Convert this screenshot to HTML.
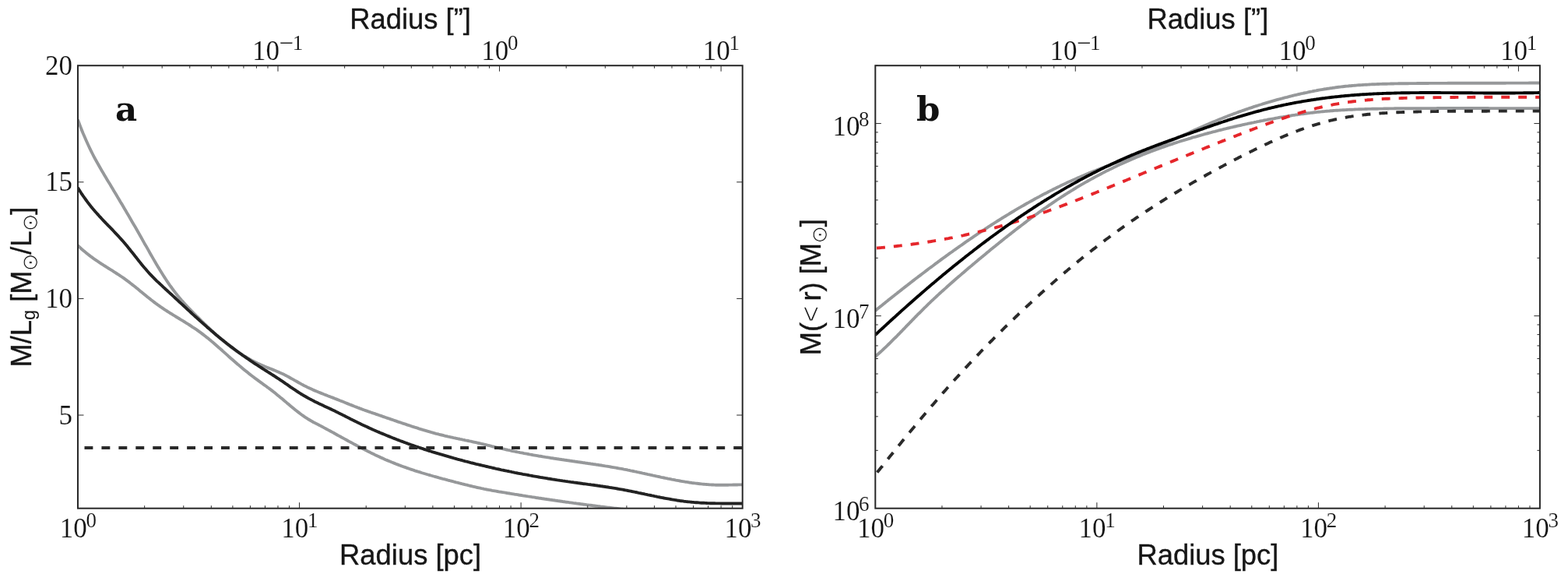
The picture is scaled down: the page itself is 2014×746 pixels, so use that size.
<!DOCTYPE html>
<html><head><meta charset="utf-8"><title>Figure</title>
<style>
html,body{margin:0;padding:0;background:#fff;}
svg{display:block;}
.tk{font-family:"Liberation Serif","DejaVu Serif",serif;font-size:35px;fill:#141414;stroke:#fff;stroke-width:0.15px;paint-order:fill stroke;}
.sup{font-size:27px;}
.mn{font-size:33px;}
.lt{stroke:#fff;stroke-width:0.9px;paint-order:fill stroke;}
.lab{font-family:"Liberation Sans","DejaVu Sans",sans-serif;font-size:36.4px;fill:#161616;stroke:#161616;stroke-width:0.35px;}
.sub{font-size:23.5px;stroke-width:0.1px;}
.sun{font-family:"DejaVu Sans","Liberation Sans",sans-serif;font-size:27.5px;stroke:#fff;stroke-width:0.7px;paint-order:fill stroke;}
.pl{font-family:"DejaVu Serif","Liberation Serif",serif;font-weight:bold;font-size:43.5px;fill:#111;}
.ax{fill:none;stroke:#282828;stroke-width:2;}
.t{stroke:#282828;stroke-width:1;fill:none;}
.c{fill:none;stroke-width:3.9;stroke-linejoin:round;}
</style></head><body>
<svg width="2014" height="746" viewBox="0 0 2014 746">
<rect width="2014" height="746" fill="#fff"/>
<defs>
<clipPath id="cl"><rect x="100.0" y="84.2" width="853.7" height="568.5"/></clipPath>
<clipPath id="cr"><rect x="1124.3" y="84.2" width="853.6000000000001" height="568.5"/></clipPath>
</defs>

<g clip-path="url(#cl)">
<path class="c" stroke="#96989a" d="M100.0,153.8 L101.7,158.4 L103.4,162.9 L105.1,167.3 L106.8,171.5 L108.6,175.5 L110.3,179.5 L112.0,183.3 L113.7,187.0 L115.4,190.6 L117.1,194.1 L118.8,197.5 L120.5,200.8 L122.2,204.0 L124.0,207.2 L125.7,210.2 L127.4,213.3 L129.1,216.3 L130.8,219.2 L132.5,222.1 L134.2,225.0 L135.9,227.8 L137.6,230.7 L139.3,233.5 L141.1,236.3 L142.8,239.2 L144.5,242.0 L146.2,244.9 L147.9,247.7 L149.6,250.6 L151.3,253.4 L153.0,256.3 L154.7,259.2 L156.5,262.1 L158.2,265.0 L159.9,267.9 L161.6,270.8 L163.3,273.7 L165.0,276.6 L166.7,279.5 L168.4,282.5 L170.1,285.4 L171.9,288.4 L173.6,291.3 L175.3,294.3 L177.0,297.3 L178.7,300.3 L180.4,303.3 L182.1,306.3 L183.8,309.4 L185.5,312.4 L187.3,315.4 L189.0,318.4 L190.7,321.4 L192.4,324.5 L194.1,327.4 L195.8,330.4 L197.5,333.4 L199.2,336.3 L200.9,339.2 L202.6,342.1 L204.4,344.9 L206.1,347.7 L207.8,350.5 L209.5,353.2 L211.2,355.9 L212.9,358.5 L214.6,361.1 L216.3,363.6 L218.0,366.1 L219.8,368.5 L221.5,370.9 L223.2,373.2 L224.9,375.4 L226.6,377.6 L228.3,379.7 L230.0,381.8 L231.7,383.8 L233.4,385.8 L235.2,387.7 L236.9,389.7 L238.6,391.5 L240.3,393.4 L242.0,395.2 L243.7,396.9 L245.4,398.7 L247.1,400.4 L248.8,402.2 L250.6,403.9 L252.3,405.6 L254.0,407.2 L255.7,408.9 L257.4,410.6 L259.1,412.3 L260.8,413.9 L262.5,415.6 L264.2,417.2 L265.9,418.9 L267.7,420.5 L269.4,422.1 L271.1,423.7 L272.8,425.3 L274.5,426.8 L276.2,428.4 L277.9,429.9 L279.6,431.5 L281.3,433.0 L283.1,434.5 L284.8,435.9 L286.5,437.4 L288.2,438.8 L289.9,440.2 L291.6,441.6 L293.3,443.0 L295.0,444.3 L296.7,445.6 L298.5,446.9 L300.2,448.1 L301.9,449.4 L303.6,450.6 L305.3,451.8 L307.0,452.9 L308.7,454.0 L310.4,455.2 L312.1,456.2 L313.9,457.3 L315.6,458.3 L317.3,459.3 L319.0,460.3 L320.7,461.3 L322.4,462.2 L324.1,463.1 L325.8,464.0 L327.5,464.9 L329.3,465.7 L331.0,466.6 L332.7,467.4 L334.4,468.1 L336.1,468.9 L337.8,469.6 L339.5,470.3 L341.2,471.0 L342.9,471.7 L344.6,472.4 L346.4,473.1 L348.1,473.7 L349.8,474.4 L351.5,475.1 L353.2,475.8 L354.9,476.5 L356.6,477.2 L358.3,477.9 L360.0,478.7 L361.8,479.5 L363.5,480.3 L365.2,481.1 L366.9,482.0 L368.6,482.9 L370.3,483.8 L372.0,484.7 L373.7,485.7 L375.4,486.6 L377.2,487.6 L378.9,488.6 L380.6,489.5 L382.3,490.5 L384.0,491.5 L385.7,492.4 L387.4,493.4 L389.1,494.3 L390.8,495.2 L392.6,496.0 L394.3,496.9 L396.0,497.7 L397.7,498.5 L399.4,499.3 L401.1,500.1 L402.8,500.9 L404.5,501.6 L406.2,502.3 L407.9,503.0 L409.7,503.7 L411.4,504.4 L413.1,505.1 L414.8,505.8 L416.5,506.5 L418.2,507.1 L419.9,507.8 L421.6,508.5 L423.3,509.1 L425.1,509.8 L426.8,510.4 L428.5,511.1 L430.2,511.8 L431.9,512.4 L433.6,513.1 L435.3,513.8 L437.0,514.5 L438.7,515.1 L440.5,515.8 L442.2,516.5 L443.9,517.2 L445.6,517.9 L447.3,518.6 L449.0,519.3 L450.7,519.9 L452.4,520.6 L454.1,521.3 L455.9,522.0 L457.6,522.6 L459.3,523.3 L461.0,523.9 L462.7,524.6 L464.4,525.2 L466.1,525.9 L467.8,526.5 L469.5,527.1 L471.2,527.7 L473.0,528.3 L474.7,528.9 L476.4,529.5 L478.1,530.1 L479.8,530.7 L481.5,531.2 L483.2,531.8 L484.9,532.4 L486.6,533.0 L488.4,533.6 L490.1,534.2 L491.8,534.8 L493.5,535.4 L495.2,536.0 L496.9,536.6 L498.6,537.2 L500.3,537.7 L502.0,538.3 L503.8,538.9 L505.5,539.5 L507.2,540.1 L508.9,540.7 L510.6,541.3 L512.3,541.9 L514.0,542.4 L515.7,543.0 L517.4,543.6 L519.2,544.2 L520.9,544.7 L522.6,545.3 L524.3,545.9 L526.0,546.4 L527.7,547.0 L529.4,547.6 L531.1,548.1 L532.8,548.7 L534.5,549.2 L536.3,549.7 L538.0,550.3 L539.7,550.8 L541.4,551.3 L543.1,551.9 L544.8,552.4 L546.5,552.9 L548.2,553.4 L549.9,553.9 L551.7,554.4 L553.4,554.9 L555.1,555.3 L556.8,555.8 L558.5,556.3 L560.2,556.8 L561.9,557.2 L563.6,557.7 L565.3,558.1 L567.1,558.5 L568.8,558.9 L570.5,559.4 L572.2,559.8 L573.9,560.2 L575.6,560.6 L577.3,560.9 L579.0,561.3 L580.7,561.7 L582.5,562.1 L584.2,562.4 L585.9,562.8 L587.6,563.2 L589.3,563.5 L591.0,563.9 L592.7,564.2 L594.4,564.6 L596.1,564.9 L597.8,565.3 L599.6,565.6 L601.3,566.0 L603.0,566.4 L604.7,566.7 L606.4,567.1 L608.1,567.5 L609.8,567.8 L611.5,568.2 L613.2,568.6 L615.0,569.0 L616.7,569.4 L618.4,569.8 L620.1,570.2 L621.8,570.6 L623.5,571.0 L625.2,571.4 L626.9,571.8 L628.6,572.2 L630.4,572.6 L632.1,573.1 L633.8,573.5 L635.5,573.9 L637.2,574.3 L638.9,574.7 L640.6,575.1 L642.3,575.5 L644.0,575.9 L645.8,576.3 L647.5,576.7 L649.2,577.1 L650.9,577.5 L652.6,577.9 L654.3,578.2 L656.0,578.6 L657.7,579.0 L659.4,579.3 L661.1,579.7 L662.9,580.0 L664.6,580.4 L666.3,580.7 L668.0,581.1 L669.7,581.4 L671.4,581.7 L673.1,582.1 L674.8,582.4 L676.5,582.7 L678.3,583.0 L680.0,583.4 L681.7,583.7 L683.4,584.0 L685.1,584.3 L686.8,584.6 L688.5,584.9 L690.2,585.2 L691.9,585.5 L693.7,585.7 L695.4,586.0 L697.1,586.3 L698.8,586.6 L700.5,586.9 L702.2,587.1 L703.9,587.4 L705.6,587.7 L707.3,588.0 L709.1,588.2 L710.8,588.5 L712.5,588.8 L714.2,589.0 L715.9,589.3 L717.6,589.5 L719.3,589.8 L721.0,590.0 L722.7,590.3 L724.4,590.5 L726.2,590.8 L727.9,591.0 L729.6,591.3 L731.3,591.5 L733.0,591.8 L734.7,592.0 L736.4,592.3 L738.1,592.5 L739.8,592.8 L741.6,593.0 L743.3,593.3 L745.0,593.5 L746.7,593.7 L748.4,594.0 L750.1,594.2 L751.8,594.5 L753.5,594.7 L755.2,595.0 L757.0,595.2 L758.7,595.5 L760.4,595.7 L762.1,596.0 L763.8,596.2 L765.5,596.5 L767.2,596.7 L768.9,597.0 L770.6,597.3 L772.4,597.5 L774.1,597.8 L775.8,598.1 L777.5,598.4 L779.2,598.6 L780.9,598.9 L782.6,599.2 L784.3,599.5 L786.0,599.8 L787.8,600.1 L789.5,600.4 L791.2,600.7 L792.9,601.0 L794.6,601.3 L796.3,601.6 L798.0,601.9 L799.7,602.2 L801.4,602.6 L803.1,602.9 L804.9,603.2 L806.6,603.6 L808.3,603.9 L810.0,604.3 L811.7,604.6 L813.4,605.0 L815.1,605.4 L816.8,605.7 L818.5,606.1 L820.3,606.4 L822.0,606.8 L823.7,607.2 L825.4,607.6 L827.1,607.9 L828.8,608.3 L830.5,608.7 L832.2,609.1 L833.9,609.4 L835.7,609.8 L837.4,610.2 L839.1,610.6 L840.8,610.9 L842.5,611.3 L844.2,611.7 L845.9,612.0 L847.6,612.4 L849.3,612.8 L851.1,613.1 L852.8,613.5 L854.5,613.9 L856.2,614.2 L857.9,614.6 L859.6,614.9 L861.3,615.2 L863.0,615.6 L864.7,615.9 L866.4,616.2 L868.2,616.6 L869.9,616.9 L871.6,617.2 L873.3,617.5 L875.0,617.8 L876.7,618.1 L878.4,618.4 L880.1,618.7 L881.8,618.9 L883.6,619.2 L885.3,619.5 L887.0,619.7 L888.7,620.0 L890.4,620.2 L892.1,620.4 L893.8,620.6 L895.5,620.8 L897.2,621.0 L899.0,621.2 L900.7,621.4 L902.4,621.6 L904.1,621.7 L905.8,621.9 L907.5,622.0 L909.2,622.1 L910.9,622.3 L912.6,622.4 L914.4,622.5 L916.1,622.5 L917.8,622.6 L919.5,622.7 L921.2,622.7 L922.9,622.7 L924.6,622.7 L926.3,622.7 L928.0,622.7 L929.7,622.7 L931.5,622.7 L933.2,622.7 L934.9,622.7 L936.6,622.6 L938.3,622.6 L940.0,622.6 L941.7,622.5 L943.4,622.5 L945.1,622.5 L946.9,622.5 L948.6,622.4 L950.3,622.4 L952.0,622.4 L953.7,622.4"/>
<path class="c" stroke="#96989a" d="M100.0,315.2 L101.7,316.8 L103.4,318.4 L105.1,320.0 L106.8,321.5 L108.6,322.9 L110.3,324.4 L112.0,325.7 L113.7,327.1 L115.4,328.4 L117.1,329.7 L118.8,330.9 L120.5,332.2 L122.2,333.4 L124.0,334.5 L125.7,335.7 L127.4,336.8 L129.1,338.0 L130.8,339.1 L132.5,340.2 L134.2,341.3 L135.9,342.3 L137.6,343.4 L139.3,344.5 L141.1,345.6 L142.8,346.6 L144.5,347.7 L146.2,348.8 L147.9,349.9 L149.6,351.0 L151.3,352.1 L153.0,353.2 L154.7,354.3 L156.5,355.5 L158.2,356.7 L159.9,357.9 L161.6,359.1 L163.3,360.4 L165.0,361.6 L166.7,362.9 L168.4,364.3 L170.1,365.6 L171.9,367.0 L173.6,368.3 L175.3,369.7 L177.0,371.1 L178.7,372.5 L180.4,373.9 L182.1,375.3 L183.8,376.7 L185.5,378.1 L187.3,379.5 L189.0,380.9 L190.7,382.3 L192.4,383.6 L194.1,385.0 L195.8,386.3 L197.5,387.6 L199.2,388.9 L200.9,390.2 L202.6,391.4 L204.4,392.6 L206.1,393.8 L207.8,395.0 L209.5,396.1 L211.2,397.3 L212.9,398.4 L214.6,399.5 L216.3,400.6 L218.0,401.7 L219.8,402.7 L221.5,403.8 L223.2,404.9 L224.9,405.9 L226.6,407.0 L228.3,408.0 L230.0,409.0 L231.7,410.1 L233.4,411.1 L235.2,412.2 L236.9,413.2 L238.6,414.3 L240.3,415.4 L242.0,416.4 L243.7,417.5 L245.4,418.6 L247.1,419.8 L248.8,420.9 L250.6,422.0 L252.3,423.2 L254.0,424.4 L255.7,425.6 L257.4,426.8 L259.1,428.1 L260.8,429.4 L262.5,430.7 L264.2,432.0 L265.9,433.4 L267.7,434.8 L269.4,436.2 L271.1,437.6 L272.8,439.1 L274.5,440.5 L276.2,442.0 L277.9,443.5 L279.6,445.0 L281.3,446.5 L283.1,448.0 L284.8,449.5 L286.5,451.1 L288.2,452.6 L289.9,454.1 L291.6,455.6 L293.3,457.2 L295.0,458.7 L296.7,460.2 L298.5,461.7 L300.2,463.2 L301.9,464.7 L303.6,466.2 L305.3,467.7 L307.0,469.1 L308.7,470.6 L310.4,472.0 L312.1,473.4 L313.9,474.9 L315.6,476.3 L317.3,477.6 L319.0,479.0 L320.7,480.4 L322.4,481.7 L324.1,483.0 L325.8,484.3 L327.5,485.6 L329.3,486.9 L331.0,488.1 L332.7,489.4 L334.4,490.6 L336.1,491.8 L337.8,493.1 L339.5,494.3 L341.2,495.5 L342.9,496.8 L344.6,498.0 L346.4,499.3 L348.1,500.6 L349.8,501.9 L351.5,503.2 L353.2,504.6 L354.9,506.0 L356.6,507.4 L358.3,508.8 L360.0,510.2 L361.8,511.6 L363.5,513.0 L365.2,514.5 L366.9,515.9 L368.6,517.4 L370.3,518.8 L372.0,520.3 L373.7,521.7 L375.4,523.1 L377.2,524.5 L378.9,525.9 L380.6,527.3 L382.3,528.6 L384.0,529.9 L385.7,531.2 L387.4,532.5 L389.1,533.7 L390.8,534.9 L392.6,536.1 L394.3,537.2 L396.0,538.3 L397.7,539.3 L399.4,540.3 L401.1,541.2 L402.8,542.2 L404.5,543.1 L406.2,543.9 L407.9,544.8 L409.7,545.7 L411.4,546.6 L413.1,547.5 L414.8,548.4 L416.5,549.4 L418.2,550.3 L419.9,551.2 L421.6,552.1 L423.3,553.0 L425.1,554.0 L426.8,554.9 L428.5,555.8 L430.2,556.8 L431.9,557.7 L433.6,558.7 L435.3,559.6 L437.0,560.5 L438.7,561.5 L440.5,562.4 L442.2,563.4 L443.9,564.3 L445.6,565.2 L447.3,566.2 L449.0,567.1 L450.7,568.0 L452.4,568.9 L454.1,569.9 L455.9,570.8 L457.6,571.7 L459.3,572.6 L461.0,573.5 L462.7,574.4 L464.4,575.3 L466.1,576.2 L467.8,577.1 L469.5,577.9 L471.2,578.8 L473.0,579.7 L474.7,580.5 L476.4,581.4 L478.1,582.2 L479.8,583.0 L481.5,583.9 L483.2,584.7 L484.9,585.5 L486.6,586.3 L488.4,587.1 L490.1,587.9 L491.8,588.6 L493.5,589.4 L495.2,590.2 L496.9,590.9 L498.6,591.6 L500.3,592.3 L502.0,593.0 L503.8,593.7 L505.5,594.4 L507.2,595.1 L508.9,595.8 L510.6,596.4 L512.3,597.1 L514.0,597.7 L515.7,598.4 L517.4,599.0 L519.2,599.6 L520.9,600.2 L522.6,600.8 L524.3,601.4 L526.0,602.0 L527.7,602.6 L529.4,603.2 L531.1,603.7 L532.8,604.3 L534.5,604.8 L536.3,605.4 L538.0,605.9 L539.7,606.4 L541.4,607.0 L543.1,607.5 L544.8,608.0 L546.5,608.5 L548.2,609.0 L549.9,609.5 L551.7,610.0 L553.4,610.5 L555.1,611.0 L556.8,611.5 L558.5,612.0 L560.2,612.4 L561.9,612.9 L563.6,613.4 L565.3,613.8 L567.1,614.3 L568.8,614.8 L570.5,615.2 L572.2,615.7 L573.9,616.1 L575.6,616.6 L577.3,617.0 L579.0,617.5 L580.7,617.9 L582.5,618.4 L584.2,618.8 L585.9,619.3 L587.6,619.7 L589.3,620.2 L591.0,620.6 L592.7,621.0 L594.4,621.5 L596.1,621.9 L597.8,622.3 L599.6,622.7 L601.3,623.2 L603.0,623.6 L604.7,624.0 L606.4,624.4 L608.1,624.8 L609.8,625.2 L611.5,625.6 L613.2,626.0 L615.0,626.3 L616.7,626.7 L618.4,627.1 L620.1,627.4 L621.8,627.8 L623.5,628.1 L625.2,628.5 L626.9,628.8 L628.6,629.1 L630.4,629.4 L632.1,629.8 L633.8,630.1 L635.5,630.4 L637.2,630.7 L638.9,631.0 L640.6,631.3 L642.3,631.6 L644.0,631.8 L645.8,632.1 L647.5,632.4 L649.2,632.7 L650.9,633.0 L652.6,633.3 L654.3,633.5 L656.0,633.8 L657.7,634.1 L659.4,634.4 L661.1,634.7 L662.9,634.9 L664.6,635.2 L666.3,635.5 L668.0,635.8 L669.7,636.0 L671.4,636.3 L673.1,636.6 L674.8,636.8 L676.5,637.1 L678.3,637.4 L680.0,637.6 L681.7,637.9 L683.4,638.2 L685.1,638.4 L686.8,638.7 L688.5,639.0 L690.2,639.2 L691.9,639.5 L693.7,639.7 L695.4,640.0 L697.1,640.3 L698.8,640.5 L700.5,640.8 L702.2,641.0 L703.9,641.3 L705.6,641.5 L707.3,641.8 L709.1,642.0 L710.8,642.3 L712.5,642.5 L714.2,642.8 L715.9,643.0 L717.6,643.3 L719.3,643.5 L721.0,643.7 L722.7,644.0 L724.4,644.2 L726.2,644.5 L727.9,644.7 L729.6,644.9 L731.3,645.2 L733.0,645.4 L734.7,645.6 L736.4,645.9 L738.1,646.1 L739.8,646.3 L741.6,646.6 L743.3,646.8 L745.0,647.0 L746.7,647.3 L748.4,647.5 L750.1,647.7 L751.8,647.9 L753.5,648.2 L755.2,648.4 L757.0,648.6 L758.7,648.8 L760.4,649.0 L762.1,649.3 L763.8,649.5 L765.5,649.7 L767.2,649.9 L768.9,650.1 L770.6,650.3 L772.4,650.6 L774.1,650.8 L775.8,651.0 L777.5,651.2 L779.2,651.4 L780.9,651.6 L782.6,651.8 L784.3,652.0 L786.0,652.2 L787.8,652.4 L789.5,652.6 L791.2,652.8 L792.9,653.0 L794.6,653.2 L796.3,653.4 L798.0,653.6 L799.7,653.8 L801.4,654.0 L803.1,654.2 L804.9,654.4 L806.6,654.6 L808.3,654.8 L810.0,655.0 L811.7,655.2 L813.4,655.4 L815.1,655.6 L816.8,655.8 L818.5,656.0 L820.3,656.1 L822.0,656.3 L823.7,656.5 L825.4,656.7 L827.1,656.9 L828.8,657.1 L830.5,657.2 L832.2,657.4 L833.9,657.6 L835.7,657.8 L837.4,658.0 L839.1,658.1 L840.8,658.3 L842.5,658.5 L844.2,658.7 L845.9,658.8 L847.6,659.0 L849.3,659.2 L851.1,659.4 L852.8,659.5 L854.5,659.7 L856.2,659.9 L857.9,660.0 L859.6,660.2 L861.3,660.4 L863.0,660.5 L864.7,660.7 L866.4,660.8 L868.2,661.0 L869.9,661.2 L871.6,661.3 L873.3,661.5 L875.0,661.6 L876.7,661.8 L878.4,662.0 L880.1,662.1 L881.8,662.3 L883.6,662.4 L885.3,662.6 L887.0,662.7 L888.7,662.9 L890.4,663.0 L892.1,663.2 L893.8,663.3 L895.5,663.5 L897.2,663.6 L899.0,663.8 L900.7,663.9 L902.4,664.1 L904.1,664.2 L905.8,664.3 L907.5,664.5 L909.2,664.6 L910.9,664.8 L912.6,664.9 L914.4,665.0 L916.1,665.2 L917.8,665.3 L919.5,665.4 L921.2,665.6 L922.9,665.7 L924.6,665.8 L926.3,666.0 L928.0,666.1 L929.7,666.2 L931.5,666.4 L933.2,666.5 L934.9,666.6 L936.6,666.8 L938.3,666.9 L940.0,667.0 L941.7,667.1 L943.4,667.3 L945.1,667.4 L946.9,667.5 L948.6,667.6 L950.3,667.7 L952.0,667.9 L953.7,668.0"/>
<path class="c" stroke="#222222" d="M100.0,241.1 L101.7,243.9 L103.4,246.5 L105.1,249.2 L106.8,251.7 L108.6,254.1 L110.3,256.5 L112.0,258.8 L113.7,261.1 L115.4,263.3 L117.1,265.4 L118.8,267.5 L120.5,269.5 L122.2,271.5 L124.0,273.5 L125.7,275.4 L127.4,277.3 L129.1,279.1 L130.8,281.0 L132.5,282.8 L134.2,284.6 L135.9,286.4 L137.6,288.1 L139.3,289.9 L141.1,291.7 L142.8,293.4 L144.5,295.2 L146.2,297.0 L147.9,298.8 L149.6,300.6 L151.3,302.4 L153.0,304.3 L154.7,306.2 L156.5,308.1 L158.2,310.0 L159.9,312.0 L161.6,314.1 L163.3,316.1 L165.0,318.2 L166.7,320.3 L168.4,322.5 L170.1,324.6 L171.9,326.8 L173.6,329.0 L175.3,331.1 L177.0,333.3 L178.7,335.4 L180.4,337.6 L182.1,339.7 L183.8,341.8 L185.5,343.8 L187.3,345.8 L189.0,347.8 L190.7,349.7 L192.4,351.6 L194.1,353.4 L195.8,355.2 L197.5,356.9 L199.2,358.6 L200.9,360.3 L202.6,361.9 L204.4,363.5 L206.1,365.1 L207.8,366.7 L209.5,368.3 L211.2,369.9 L212.9,371.5 L214.6,373.0 L216.3,374.6 L218.0,376.2 L219.8,377.8 L221.5,379.3 L223.2,380.9 L224.9,382.5 L226.6,384.1 L228.3,385.7 L230.0,387.3 L231.7,388.9 L233.4,390.4 L235.2,392.0 L236.9,393.6 L238.6,395.2 L240.3,396.8 L242.0,398.4 L243.7,399.9 L245.4,401.5 L247.1,403.1 L248.8,404.6 L250.6,406.2 L252.3,407.7 L254.0,409.3 L255.7,410.8 L257.4,412.4 L259.1,413.9 L260.8,415.4 L262.5,416.9 L264.2,418.4 L265.9,419.9 L267.7,421.4 L269.4,422.9 L271.1,424.4 L272.8,425.8 L274.5,427.3 L276.2,428.7 L277.9,430.2 L279.6,431.6 L281.3,433.0 L283.1,434.4 L284.8,435.8 L286.5,437.1 L288.2,438.5 L289.9,439.8 L291.6,441.2 L293.3,442.5 L295.0,443.8 L296.7,445.1 L298.5,446.4 L300.2,447.7 L301.9,449.0 L303.6,450.3 L305.3,451.5 L307.0,452.8 L308.7,454.0 L310.4,455.2 L312.1,456.5 L313.9,457.7 L315.6,458.9 L317.3,460.1 L319.0,461.2 L320.7,462.4 L322.4,463.6 L324.1,464.7 L325.8,465.9 L327.5,467.0 L329.3,468.1 L331.0,469.2 L332.7,470.3 L334.4,471.4 L336.1,472.5 L337.8,473.6 L339.5,474.7 L341.2,475.8 L342.9,476.8 L344.6,477.9 L346.4,479.0 L348.1,480.1 L349.8,481.2 L351.5,482.2 L353.2,483.4 L354.9,484.5 L356.6,485.6 L358.3,486.7 L360.0,487.9 L361.8,489.0 L363.5,490.2 L365.2,491.4 L366.9,492.6 L368.6,493.7 L370.3,494.9 L372.0,496.1 L373.7,497.3 L375.4,498.4 L377.2,499.6 L378.9,500.7 L380.6,501.9 L382.3,503.0 L384.0,504.1 L385.7,505.2 L387.4,506.2 L389.1,507.3 L390.8,508.3 L392.6,509.3 L394.3,510.3 L396.0,511.2 L397.7,512.1 L399.4,513.0 L401.1,513.9 L402.8,514.8 L404.5,515.7 L406.2,516.5 L407.9,517.3 L409.7,518.2 L411.4,519.0 L413.1,519.8 L414.8,520.6 L416.5,521.4 L418.2,522.2 L419.9,523.0 L421.6,523.8 L423.3,524.6 L425.1,525.4 L426.8,526.2 L428.5,527.0 L430.2,527.8 L431.9,528.7 L433.6,529.5 L435.3,530.4 L437.0,531.2 L438.7,532.1 L440.5,533.0 L442.2,533.8 L443.9,534.7 L445.6,535.6 L447.3,536.4 L449.0,537.3 L450.7,538.2 L452.4,539.0 L454.1,539.9 L455.9,540.7 L457.6,541.6 L459.3,542.4 L461.0,543.3 L462.7,544.1 L464.4,544.9 L466.1,545.7 L467.8,546.5 L469.5,547.3 L471.2,548.1 L473.0,548.9 L474.7,549.7 L476.4,550.4 L478.1,551.2 L479.8,552.0 L481.5,552.7 L483.2,553.5 L484.9,554.2 L486.6,554.9 L488.4,555.7 L490.1,556.4 L491.8,557.1 L493.5,557.8 L495.2,558.5 L496.9,559.2 L498.6,559.9 L500.3,560.6 L502.0,561.3 L503.8,562.0 L505.5,562.7 L507.2,563.3 L508.9,564.0 L510.6,564.7 L512.3,565.3 L514.0,566.0 L515.7,566.6 L517.4,567.2 L519.2,567.9 L520.9,568.5 L522.6,569.1 L524.3,569.8 L526.0,570.4 L527.7,571.0 L529.4,571.6 L531.1,572.2 L532.8,572.8 L534.5,573.4 L536.3,573.9 L538.0,574.5 L539.7,575.1 L541.4,575.7 L543.1,576.2 L544.8,576.8 L546.5,577.4 L548.2,577.9 L549.9,578.5 L551.7,579.0 L553.4,579.5 L555.1,580.1 L556.8,580.6 L558.5,581.1 L560.2,581.7 L561.9,582.2 L563.6,582.7 L565.3,583.2 L567.1,583.7 L568.8,584.2 L570.5,584.7 L572.2,585.2 L573.9,585.7 L575.6,586.2 L577.3,586.7 L579.0,587.2 L580.7,587.7 L582.5,588.2 L584.2,588.6 L585.9,589.1 L587.6,589.6 L589.3,590.0 L591.0,590.5 L592.7,590.9 L594.4,591.4 L596.1,591.8 L597.8,592.3 L599.6,592.7 L601.3,593.2 L603.0,593.6 L604.7,594.1 L606.4,594.5 L608.1,594.9 L609.8,595.3 L611.5,595.8 L613.2,596.2 L615.0,596.6 L616.7,597.0 L618.4,597.4 L620.1,597.8 L621.8,598.2 L623.5,598.6 L625.2,599.0 L626.9,599.4 L628.6,599.8 L630.4,600.2 L632.1,600.6 L633.8,601.0 L635.5,601.4 L637.2,601.8 L638.9,602.1 L640.6,602.5 L642.3,602.9 L644.0,603.3 L645.8,603.6 L647.5,604.0 L649.2,604.3 L650.9,604.7 L652.6,605.0 L654.3,605.4 L656.0,605.7 L657.7,606.1 L659.4,606.4 L661.1,606.8 L662.9,607.1 L664.6,607.5 L666.3,607.8 L668.0,608.1 L669.7,608.4 L671.4,608.8 L673.1,609.1 L674.8,609.4 L676.5,609.7 L678.3,610.0 L680.0,610.4 L681.7,610.7 L683.4,611.0 L685.1,611.3 L686.8,611.6 L688.5,611.9 L690.2,612.2 L691.9,612.5 L693.7,612.8 L695.4,613.1 L697.1,613.3 L698.8,613.6 L700.5,613.9 L702.2,614.2 L703.9,614.5 L705.6,614.7 L707.3,615.0 L709.1,615.3 L710.8,615.6 L712.5,615.8 L714.2,616.1 L715.9,616.4 L717.6,616.6 L719.3,616.9 L721.0,617.1 L722.7,617.4 L724.4,617.6 L726.2,617.9 L727.9,618.1 L729.6,618.4 L731.3,618.6 L733.0,618.9 L734.7,619.1 L736.4,619.3 L738.1,619.6 L739.8,619.8 L741.6,620.0 L743.3,620.3 L745.0,620.5 L746.7,620.7 L748.4,621.0 L750.1,621.2 L751.8,621.4 L753.5,621.6 L755.2,621.9 L757.0,622.1 L758.7,622.3 L760.4,622.6 L762.1,622.8 L763.8,623.0 L765.5,623.3 L767.2,623.5 L768.9,623.8 L770.6,624.0 L772.4,624.3 L774.1,624.5 L775.8,624.8 L777.5,625.0 L779.2,625.3 L780.9,625.5 L782.6,625.8 L784.3,626.1 L786.0,626.3 L787.8,626.6 L789.5,626.9 L791.2,627.2 L792.9,627.5 L794.6,627.8 L796.3,628.1 L798.0,628.4 L799.7,628.7 L801.4,629.0 L803.1,629.3 L804.9,629.6 L806.6,630.0 L808.3,630.3 L810.0,630.6 L811.7,631.0 L813.4,631.3 L815.1,631.7 L816.8,632.0 L818.5,632.4 L820.3,632.8 L822.0,633.1 L823.7,633.5 L825.4,633.8 L827.1,634.2 L828.8,634.6 L830.5,634.9 L832.2,635.3 L833.9,635.6 L835.7,636.0 L837.4,636.4 L839.1,636.7 L840.8,637.1 L842.5,637.4 L844.2,637.8 L845.9,638.1 L847.6,638.5 L849.3,638.8 L851.1,639.1 L852.8,639.5 L854.5,639.8 L856.2,640.1 L857.9,640.4 L859.6,640.7 L861.3,641.0 L863.0,641.3 L864.7,641.6 L866.4,641.9 L868.2,642.2 L869.9,642.5 L871.6,642.7 L873.3,643.0 L875.0,643.2 L876.7,643.4 L878.4,643.7 L880.1,643.9 L881.8,644.1 L883.6,644.3 L885.3,644.4 L887.0,644.6 L888.7,644.8 L890.4,644.9 L892.1,645.1 L893.8,645.2 L895.5,645.3 L897.2,645.4 L899.0,645.6 L900.7,645.7 L902.4,645.8 L904.1,645.8 L905.8,645.9 L907.5,646.0 L909.2,646.1 L910.9,646.1 L912.6,646.2 L914.4,646.2 L916.1,646.3 L917.8,646.3 L919.5,646.4 L921.2,646.4 L922.9,646.4 L924.6,646.4 L926.3,646.5 L928.0,646.5 L929.7,646.5 L931.5,646.5 L933.2,646.5 L934.9,646.5 L936.6,646.5 L938.3,646.5 L940.0,646.5 L941.7,646.5 L943.4,646.5 L945.1,646.5 L946.9,646.5 L948.6,646.5 L950.3,646.5 L952.0,646.5 L953.7,646.5"/>
<path class="c" stroke="#2a2a2a" stroke-dasharray="10.9 11.04" stroke-dashoffset="13.44" d="M100.0,575.0H953.7"/>
</g>
<path class="t" d="M185.66,652.7v-3.5 M235.77,652.7v-3.5 M271.33,652.7v-3.5 M298.90,652.7v-3.5 M321.44,652.7v-3.5 M340.49,652.7v-3.5 M356.99,652.7v-3.5 M371.55,652.7v-3.5 M384.57,652.7v-7.5 M470.23,652.7v-3.5 M520.34,652.7v-3.5 M555.89,652.7v-3.5 M583.47,652.7v-3.5 M606.00,652.7v-3.5 M625.05,652.7v-3.5 M641.56,652.7v-3.5 M656.11,652.7v-3.5 M669.13,652.7v-7.5 M754.80,652.7v-3.5 M804.91,652.7v-3.5 M840.46,652.7v-3.5 M868.04,652.7v-3.5 M890.57,652.7v-3.5 M909.62,652.7v-3.5 M926.12,652.7v-3.5 M940.68,652.7v-3.5 M158.09,84.2v3.5 M208.20,84.2v3.5 M243.75,84.2v3.5 M271.33,84.2v3.5 M293.86,84.2v3.5 M312.91,84.2v3.5 M329.41,84.2v3.5 M343.97,84.2v3.5 M356.99,84.2v7.5 M442.65,84.2v3.5 M492.76,84.2v3.5 M528.32,84.2v3.5 M555.89,84.2v3.5 M578.43,84.2v3.5 M597.48,84.2v3.5 M613.98,84.2v3.5 M628.53,84.2v3.5 M641.56,84.2v7.5 M727.22,84.2v3.5 M777.33,84.2v3.5 M812.88,84.2v3.5 M840.46,84.2v3.5 M862.99,84.2v3.5 M882.04,84.2v3.5 M898.55,84.2v3.5 M913.10,84.2v3.5 M926.12,84.2v7.5 M100.0,533.02h7.5 M953.7,533.02h-7.5 M100.0,383.41h7.5 M953.7,383.41h-7.5 M100.0,233.81h7.5 M953.7,233.81h-7.5"/>
<rect class="ax" x="100.0" y="84.2" width="853.7" height="568.5"/>
<text class="tk" x="93.0" y="544.6" text-anchor="end">5</text>
<text class="tk" x="93.0" y="395.0" text-anchor="end">10</text>
<text class="tk" x="93.0" y="245.4" text-anchor="end">15</text>
<text class="tk" x="93.0" y="95.8" text-anchor="end">20</text>
<text class="tk" x="76.7" y="689.8" text-anchor="start">10<tspan class="sup" dx="-1.3" dy="-12.5">0</tspan></text>
<text class="tk" x="361.2" y="689.8" text-anchor="start">10<tspan class="sup" dx="-1.3" dy="-12.5">1</tspan></text>
<text class="tk" x="645.8" y="689.8" text-anchor="start">10<tspan class="sup" dx="-1.3" dy="-12.5">2</tspan></text>
<text class="tk" x="930.4" y="689.8" text-anchor="start">10<tspan class="sup" dx="-1.3" dy="-12.5">3</tspan></text>
<text class="tk" x="324.1" y="76.5" text-anchor="start">10<tspan class="mn" dx="-0.5" dy="-10.5">−</tspan><tspan class="sup" dx="-1.5" dy="-2.0">1</tspan></text>
<text class="tk" x="618.2" y="76.5" text-anchor="start">10<tspan class="sup" dx="-1.3" dy="-12.5">0</tspan></text>
<text class="tk" x="902.8" y="76.5" text-anchor="start">10<tspan class="sup" dx="-1.3" dy="-12.5">1</tspan></text>
<text class="lab" x="527.1" y="37.3" text-anchor="middle">Radius [”]</text>
<text class="lab" x="527.1" y="724.8" text-anchor="middle">Radius [pc]</text>
<text class="lab" transform="translate(39.5,471.6) rotate(-90)">M/L<tspan class="sub" dy="5.7">g</tspan><tspan dy="-5.7"> [M</tspan><tspan class="sun" dx="-1.2" dy="8.0">⊙</tspan><tspan dx="-1.3" dy="-8.0">/L</tspan><tspan class="sun" dx="-1.2" dy="8.0">⊙</tspan><tspan dx="-1.3" dy="-8.0">]</tspan></text>
<text class="pl" x="148.0" y="155.3">a</text>
<g clip-path="url(#cr)">
<path class="c" stroke="#96989a" d="M1124.3,398.9 L1126.0,397.5 L1127.7,396.1 L1129.4,394.7 L1131.1,393.3 L1132.9,392.0 L1134.6,390.6 L1136.3,389.2 L1138.0,387.8 L1139.7,386.5 L1141.4,385.1 L1143.1,383.7 L1144.8,382.4 L1146.5,381.0 L1148.2,379.7 L1150.0,378.3 L1151.7,377.0 L1153.4,375.6 L1155.1,374.3 L1156.8,372.9 L1158.5,371.6 L1160.2,370.2 L1161.9,368.9 L1163.6,367.6 L1165.4,366.2 L1167.1,364.9 L1168.8,363.6 L1170.5,362.2 L1172.2,360.9 L1173.9,359.6 L1175.6,358.3 L1177.3,357.0 L1179.0,355.7 L1180.8,354.4 L1182.5,353.1 L1184.2,351.8 L1185.9,350.5 L1187.6,349.2 L1189.3,347.9 L1191.0,346.6 L1192.7,345.3 L1194.4,344.0 L1196.1,342.8 L1197.9,341.5 L1199.6,340.2 L1201.3,338.9 L1203.0,337.7 L1204.7,336.4 L1206.4,335.2 L1208.1,333.9 L1209.8,332.6 L1211.5,331.4 L1213.3,330.2 L1215.0,328.9 L1216.7,327.7 L1218.4,326.4 L1220.1,325.2 L1221.8,324.0 L1223.5,322.8 L1225.2,321.5 L1226.9,320.3 L1228.6,319.1 L1230.4,317.9 L1232.1,316.7 L1233.8,315.5 L1235.5,314.3 L1237.2,313.1 L1238.9,311.9 L1240.6,310.7 L1242.3,309.5 L1244.0,308.4 L1245.8,307.2 L1247.5,306.0 L1249.2,304.9 L1250.9,303.7 L1252.6,302.5 L1254.3,301.4 L1256.0,300.2 L1257.7,299.1 L1259.4,298.0 L1261.1,296.8 L1262.9,295.7 L1264.6,294.6 L1266.3,293.4 L1268.0,292.3 L1269.7,291.2 L1271.4,290.1 L1273.1,289.0 L1274.8,287.9 L1276.5,286.8 L1278.3,285.7 L1280.0,284.6 L1281.7,283.5 L1283.4,282.5 L1285.1,281.4 L1286.8,280.3 L1288.5,279.3 L1290.2,278.2 L1291.9,277.2 L1293.7,276.1 L1295.4,275.1 L1297.1,274.0 L1298.8,273.0 L1300.5,272.0 L1302.2,271.0 L1303.9,269.9 L1305.6,268.9 L1307.3,267.9 L1309.0,266.9 L1310.8,265.9 L1312.5,264.9 L1314.2,264.0 L1315.9,263.0 L1317.6,262.0 L1319.3,261.0 L1321.0,260.1 L1322.7,259.1 L1324.4,258.2 L1326.2,257.2 L1327.9,256.3 L1329.6,255.3 L1331.3,254.4 L1333.0,253.5 L1334.7,252.6 L1336.4,251.6 L1338.1,250.7 L1339.8,249.8 L1341.5,248.9 L1343.3,248.1 L1345.0,247.2 L1346.7,246.3 L1348.4,245.4 L1350.1,244.6 L1351.8,243.7 L1353.5,242.8 L1355.2,242.0 L1356.9,241.1 L1358.7,240.3 L1360.4,239.5 L1362.1,238.6 L1363.8,237.8 L1365.5,237.0 L1367.2,236.2 L1368.9,235.4 L1370.6,234.6 L1372.3,233.8 L1374.1,233.0 L1375.8,232.3 L1377.5,231.5 L1379.2,230.7 L1380.9,230.0 L1382.6,229.2 L1384.3,228.4 L1386.0,227.7 L1387.7,227.0 L1389.4,226.2 L1391.2,225.5 L1392.9,224.8 L1394.6,224.1 L1396.3,223.4 L1398.0,222.6 L1399.7,221.9 L1401.4,221.2 L1403.1,220.6 L1404.8,219.9 L1406.6,219.2 L1408.3,218.5 L1410.0,217.8 L1411.7,217.2 L1413.4,216.5 L1415.1,215.8 L1416.8,215.2 L1418.5,214.5 L1420.2,213.9 L1421.9,213.2 L1423.7,212.6 L1425.4,211.9 L1427.1,211.3 L1428.8,210.7 L1430.5,210.0 L1432.2,209.4 L1433.9,208.8 L1435.6,208.1 L1437.3,207.5 L1439.1,206.9 L1440.8,206.2 L1442.5,205.6 L1444.2,205.0 L1445.9,204.4 L1447.6,203.7 L1449.3,203.1 L1451.0,202.5 L1452.7,201.8 L1454.4,201.2 L1456.2,200.5 L1457.9,199.9 L1459.6,199.2 L1461.3,198.6 L1463.0,197.9 L1464.7,197.3 L1466.4,196.6 L1468.1,195.9 L1469.8,195.3 L1471.6,194.6 L1473.3,193.9 L1475.0,193.2 L1476.7,192.5 L1478.4,191.8 L1480.1,191.1 L1481.8,190.4 L1483.5,189.7 L1485.2,189.0 L1487.0,188.3 L1488.7,187.5 L1490.4,186.8 L1492.1,186.1 L1493.8,185.3 L1495.5,184.6 L1497.2,183.8 L1498.9,183.1 L1500.6,182.3 L1502.3,181.5 L1504.1,180.8 L1505.8,180.0 L1507.5,179.2 L1509.2,178.5 L1510.9,177.7 L1512.6,176.9 L1514.3,176.1 L1516.0,175.3 L1517.7,174.6 L1519.5,173.8 L1521.2,173.0 L1522.9,172.2 L1524.6,171.4 L1526.3,170.7 L1528.0,169.9 L1529.7,169.1 L1531.4,168.4 L1533.1,167.6 L1534.8,166.8 L1536.6,166.0 L1538.3,165.3 L1540.0,164.5 L1541.7,163.8 L1543.4,163.0 L1545.1,162.3 L1546.8,161.5 L1548.5,160.8 L1550.2,160.0 L1552.0,159.3 L1553.7,158.6 L1555.4,157.8 L1557.1,157.1 L1558.8,156.4 L1560.5,155.7 L1562.2,155.0 L1563.9,154.3 L1565.6,153.6 L1567.4,152.9 L1569.1,152.2 L1570.8,151.5 L1572.5,150.8 L1574.2,150.2 L1575.9,149.5 L1577.6,148.8 L1579.3,148.2 L1581.0,147.5 L1582.7,146.9 L1584.5,146.2 L1586.2,145.6 L1587.9,145.0 L1589.6,144.3 L1591.3,143.7 L1593.0,143.1 L1594.7,142.5 L1596.4,141.9 L1598.1,141.3 L1599.9,140.7 L1601.6,140.1 L1603.3,139.5 L1605.0,138.9 L1606.7,138.4 L1608.4,137.8 L1610.1,137.2 L1611.8,136.7 L1613.5,136.1 L1615.2,135.6 L1617.0,135.0 L1618.7,134.5 L1620.4,134.0 L1622.1,133.4 L1623.8,132.9 L1625.5,132.4 L1627.2,131.9 L1628.9,131.4 L1630.6,130.9 L1632.4,130.4 L1634.1,129.9 L1635.8,129.4 L1637.5,128.9 L1639.2,128.4 L1640.9,127.9 L1642.6,127.5 L1644.3,127.0 L1646.0,126.6 L1647.8,126.1 L1649.5,125.6 L1651.2,125.2 L1652.9,124.8 L1654.6,124.3 L1656.3,123.9 L1658.0,123.5 L1659.7,123.0 L1661.4,122.6 L1663.1,122.2 L1664.9,121.8 L1666.6,121.4 L1668.3,121.0 L1670.0,120.6 L1671.7,120.2 L1673.4,119.9 L1675.1,119.5 L1676.8,119.1 L1678.5,118.8 L1680.3,118.4 L1682.0,118.0 L1683.7,117.7 L1685.4,117.4 L1687.1,117.0 L1688.8,116.7 L1690.5,116.4 L1692.2,116.0 L1693.9,115.7 L1695.6,115.4 L1697.4,115.1 L1699.1,114.8 L1700.8,114.5 L1702.5,114.3 L1704.2,114.0 L1705.9,113.7 L1707.6,113.5 L1709.3,113.2 L1711.0,113.0 L1712.8,112.7 L1714.5,112.5 L1716.2,112.2 L1717.9,112.0 L1719.6,111.8 L1721.3,111.6 L1723.0,111.4 L1724.7,111.2 L1726.4,111.0 L1728.1,110.8 L1729.9,110.6 L1731.6,110.5 L1733.3,110.3 L1735.0,110.2 L1736.7,110.0 L1738.4,109.9 L1740.1,109.7 L1741.8,109.6 L1743.5,109.4 L1745.3,109.3 L1747.0,109.2 L1748.7,109.1 L1750.4,109.0 L1752.1,108.9 L1753.8,108.8 L1755.5,108.7 L1757.2,108.6 L1758.9,108.5 L1760.7,108.4 L1762.4,108.3 L1764.1,108.3 L1765.8,108.2 L1767.5,108.1 L1769.2,108.0 L1770.9,108.0 L1772.6,107.9 L1774.3,107.9 L1776.0,107.8 L1777.8,107.8 L1779.5,107.7 L1781.2,107.7 L1782.9,107.6 L1784.6,107.6 L1786.3,107.5 L1788.0,107.5 L1789.7,107.5 L1791.4,107.4 L1793.2,107.4 L1794.9,107.4 L1796.6,107.3 L1798.3,107.3 L1800.0,107.3 L1801.7,107.3 L1803.4,107.2 L1805.1,107.2 L1806.8,107.2 L1808.5,107.2 L1810.3,107.1 L1812.0,107.1 L1813.7,107.1 L1815.4,107.1 L1817.1,107.1 L1818.8,107.1 L1820.5,107.0 L1822.2,107.0 L1823.9,107.0 L1825.7,107.0 L1827.4,107.0 L1829.1,107.0 L1830.8,107.0 L1832.5,107.0 L1834.2,107.0 L1835.9,106.9 L1837.6,106.9 L1839.3,106.9 L1841.1,106.9 L1842.8,106.9 L1844.5,106.9 L1846.2,106.9 L1847.9,106.9 L1849.6,106.9 L1851.3,106.9 L1853.0,106.9 L1854.7,106.9 L1856.4,106.9 L1858.2,106.9 L1859.9,106.8 L1861.6,106.8 L1863.3,106.8 L1865.0,106.8 L1866.7,106.8 L1868.4,106.8 L1870.1,106.8 L1871.8,106.8 L1873.6,106.8 L1875.3,106.8 L1877.0,106.8 L1878.7,106.8 L1880.4,106.8 L1882.1,106.8 L1883.8,106.8 L1885.5,106.8 L1887.2,106.8 L1888.9,106.8 L1890.7,106.8 L1892.4,106.8 L1894.1,106.8 L1895.8,106.8 L1897.5,106.7 L1899.2,106.7 L1900.9,106.7 L1902.6,106.7 L1904.3,106.7 L1906.1,106.7 L1907.8,106.7 L1909.5,106.7 L1911.2,106.7 L1912.9,106.7 L1914.6,106.7 L1916.3,106.7 L1918.0,106.7 L1919.7,106.7 L1921.4,106.7 L1923.2,106.7 L1924.9,106.7 L1926.6,106.7 L1928.3,106.7 L1930.0,106.7 L1931.7,106.7 L1933.4,106.7 L1935.1,106.6 L1936.8,106.6 L1938.6,106.6 L1940.3,106.6 L1942.0,106.6 L1943.7,106.6 L1945.4,106.6 L1947.1,106.6 L1948.8,106.6 L1950.5,106.6 L1952.2,106.6 L1954.0,106.6 L1955.7,106.6 L1957.4,106.6 L1959.1,106.6 L1960.8,106.6 L1962.5,106.6 L1964.2,106.5 L1965.9,106.5 L1967.6,106.5 L1969.3,106.5 L1971.1,106.5 L1972.8,106.5 L1974.5,106.5 L1976.2,106.5 L1977.9,106.5"/>
<path class="c" stroke="#96989a" d="M1124.3,457.7 L1126.0,456.2 L1127.7,454.7 L1129.4,453.2 L1131.1,451.7 L1132.9,450.1 L1134.6,448.5 L1136.3,446.9 L1138.0,445.3 L1139.7,443.7 L1141.4,442.0 L1143.1,440.3 L1144.8,438.6 L1146.5,436.9 L1148.2,435.2 L1150.0,433.5 L1151.7,431.8 L1153.4,430.0 L1155.1,428.3 L1156.8,426.5 L1158.5,424.8 L1160.2,423.0 L1161.9,421.3 L1163.6,419.5 L1165.4,417.7 L1167.1,416.0 L1168.8,414.2 L1170.5,412.5 L1172.2,410.7 L1173.9,409.0 L1175.6,407.2 L1177.3,405.5 L1179.0,403.7 L1180.8,402.0 L1182.5,400.3 L1184.2,398.6 L1185.9,396.9 L1187.6,395.2 L1189.3,393.6 L1191.0,391.9 L1192.7,390.2 L1194.4,388.6 L1196.1,386.9 L1197.9,385.3 L1199.6,383.7 L1201.3,382.1 L1203.0,380.5 L1204.7,378.9 L1206.4,377.3 L1208.1,375.8 L1209.8,374.2 L1211.5,372.7 L1213.3,371.1 L1215.0,369.6 L1216.7,368.0 L1218.4,366.5 L1220.1,365.0 L1221.8,363.5 L1223.5,362.0 L1225.2,360.5 L1226.9,359.0 L1228.6,357.5 L1230.4,356.0 L1232.1,354.6 L1233.8,353.1 L1235.5,351.6 L1237.2,350.2 L1238.9,348.7 L1240.6,347.2 L1242.3,345.8 L1244.0,344.3 L1245.8,342.9 L1247.5,341.4 L1249.2,340.0 L1250.9,338.6 L1252.6,337.1 L1254.3,335.7 L1256.0,334.3 L1257.7,332.8 L1259.4,331.4 L1261.1,330.0 L1262.9,328.6 L1264.6,327.2 L1266.3,325.8 L1268.0,324.3 L1269.7,322.9 L1271.4,321.5 L1273.1,320.1 L1274.8,318.7 L1276.5,317.3 L1278.3,316.0 L1280.0,314.6 L1281.7,313.2 L1283.4,311.8 L1285.1,310.4 L1286.8,309.1 L1288.5,307.7 L1290.2,306.3 L1291.9,305.0 L1293.7,303.6 L1295.4,302.2 L1297.1,300.9 L1298.8,299.6 L1300.5,298.2 L1302.2,296.9 L1303.9,295.5 L1305.6,294.2 L1307.3,292.9 L1309.0,291.6 L1310.8,290.3 L1312.5,289.0 L1314.2,287.7 L1315.9,286.4 L1317.6,285.1 L1319.3,283.8 L1321.0,282.5 L1322.7,281.3 L1324.4,280.0 L1326.2,278.7 L1327.9,277.5 L1329.6,276.2 L1331.3,275.0 L1333.0,273.8 L1334.7,272.5 L1336.4,271.3 L1338.1,270.1 L1339.8,268.9 L1341.5,267.7 L1343.3,266.5 L1345.0,265.3 L1346.7,264.1 L1348.4,262.9 L1350.1,261.8 L1351.8,260.6 L1353.5,259.5 L1355.2,258.3 L1356.9,257.2 L1358.7,256.0 L1360.4,254.9 L1362.1,253.8 L1363.8,252.7 L1365.5,251.6 L1367.2,250.5 L1368.9,249.4 L1370.6,248.3 L1372.3,247.2 L1374.1,246.2 L1375.8,245.1 L1377.5,244.1 L1379.2,243.0 L1380.9,242.0 L1382.6,240.9 L1384.3,239.9 L1386.0,238.9 L1387.7,237.9 L1389.4,236.9 L1391.2,235.9 L1392.9,234.9 L1394.6,233.9 L1396.3,233.0 L1398.0,232.0 L1399.7,231.1 L1401.4,230.1 L1403.1,229.2 L1404.8,228.2 L1406.6,227.3 L1408.3,226.4 L1410.0,225.5 L1411.7,224.6 L1413.4,223.7 L1415.1,222.8 L1416.8,221.9 L1418.5,221.0 L1420.2,220.1 L1421.9,219.3 L1423.7,218.4 L1425.4,217.6 L1427.1,216.7 L1428.8,215.9 L1430.5,215.1 L1432.2,214.3 L1433.9,213.4 L1435.6,212.6 L1437.3,211.8 L1439.1,211.0 L1440.8,210.3 L1442.5,209.5 L1444.2,208.7 L1445.9,207.9 L1447.6,207.2 L1449.3,206.4 L1451.0,205.7 L1452.7,204.9 L1454.4,204.2 L1456.2,203.5 L1457.9,202.7 L1459.6,202.0 L1461.3,201.3 L1463.0,200.6 L1464.7,199.9 L1466.4,199.2 L1468.1,198.5 L1469.8,197.8 L1471.6,197.2 L1473.3,196.5 L1475.0,195.8 L1476.7,195.2 L1478.4,194.5 L1480.1,193.9 L1481.8,193.2 L1483.5,192.6 L1485.2,191.9 L1487.0,191.3 L1488.7,190.7 L1490.4,190.1 L1492.1,189.5 L1493.8,188.9 L1495.5,188.3 L1497.2,187.7 L1498.9,187.1 L1500.6,186.5 L1502.3,185.9 L1504.1,185.3 L1505.8,184.8 L1507.5,184.2 L1509.2,183.6 L1510.9,183.1 L1512.6,182.5 L1514.3,182.0 L1516.0,181.4 L1517.7,180.9 L1519.5,180.4 L1521.2,179.8 L1522.9,179.3 L1524.6,178.8 L1526.3,178.3 L1528.0,177.8 L1529.7,177.3 L1531.4,176.7 L1533.1,176.2 L1534.8,175.8 L1536.6,175.3 L1538.3,174.8 L1540.0,174.3 L1541.7,173.8 L1543.4,173.3 L1545.1,172.9 L1546.8,172.4 L1548.5,171.9 L1550.2,171.5 L1552.0,171.0 L1553.7,170.5 L1555.4,170.1 L1557.1,169.6 L1558.8,169.2 L1560.5,168.8 L1562.2,168.3 L1563.9,167.9 L1565.6,167.4 L1567.4,167.0 L1569.1,166.6 L1570.8,166.2 L1572.5,165.7 L1574.2,165.3 L1575.9,164.9 L1577.6,164.5 L1579.3,164.1 L1581.0,163.7 L1582.7,163.3 L1584.5,162.9 L1586.2,162.5 L1587.9,162.1 L1589.6,161.7 L1591.3,161.3 L1593.0,161.0 L1594.7,160.6 L1596.4,160.2 L1598.1,159.8 L1599.9,159.4 L1601.6,159.1 L1603.3,158.7 L1605.0,158.3 L1606.7,158.0 L1608.4,157.6 L1610.1,157.3 L1611.8,156.9 L1613.5,156.6 L1615.2,156.2 L1617.0,155.9 L1618.7,155.5 L1620.4,155.2 L1622.1,154.9 L1623.8,154.5 L1625.5,154.2 L1627.2,153.9 L1628.9,153.5 L1630.6,153.2 L1632.4,152.9 L1634.1,152.6 L1635.8,152.3 L1637.5,152.0 L1639.2,151.6 L1640.9,151.3 L1642.6,151.0 L1644.3,150.7 L1646.0,150.4 L1647.8,150.2 L1649.5,149.9 L1651.2,149.6 L1652.9,149.3 L1654.6,149.0 L1656.3,148.7 L1658.0,148.5 L1659.7,148.2 L1661.4,147.9 L1663.1,147.7 L1664.9,147.4 L1666.6,147.2 L1668.3,146.9 L1670.0,146.7 L1671.7,146.4 L1673.4,146.2 L1675.1,146.0 L1676.8,145.7 L1678.5,145.5 L1680.3,145.3 L1682.0,145.1 L1683.7,144.9 L1685.4,144.7 L1687.1,144.5 L1688.8,144.3 L1690.5,144.1 L1692.2,143.9 L1693.9,143.7 L1695.6,143.6 L1697.4,143.4 L1699.1,143.2 L1700.8,143.1 L1702.5,142.9 L1704.2,142.7 L1705.9,142.6 L1707.6,142.5 L1709.3,142.3 L1711.0,142.2 L1712.8,142.0 L1714.5,141.9 L1716.2,141.8 L1717.9,141.7 L1719.6,141.6 L1721.3,141.5 L1723.0,141.4 L1724.7,141.3 L1726.4,141.2 L1728.1,141.1 L1729.9,141.0 L1731.6,140.9 L1733.3,140.8 L1735.0,140.7 L1736.7,140.7 L1738.4,140.6 L1740.1,140.5 L1741.8,140.4 L1743.5,140.4 L1745.3,140.3 L1747.0,140.3 L1748.7,140.2 L1750.4,140.1 L1752.1,140.1 L1753.8,140.0 L1755.5,140.0 L1757.2,139.9 L1758.9,139.9 L1760.7,139.9 L1762.4,139.8 L1764.1,139.8 L1765.8,139.7 L1767.5,139.7 L1769.2,139.7 L1770.9,139.6 L1772.6,139.6 L1774.3,139.6 L1776.0,139.6 L1777.8,139.5 L1779.5,139.5 L1781.2,139.5 L1782.9,139.5 L1784.6,139.4 L1786.3,139.4 L1788.0,139.4 L1789.7,139.4 L1791.4,139.3 L1793.2,139.3 L1794.9,139.3 L1796.6,139.3 L1798.3,139.3 L1800.0,139.3 L1801.7,139.3 L1803.4,139.2 L1805.1,139.2 L1806.8,139.2 L1808.5,139.2 L1810.3,139.2 L1812.0,139.2 L1813.7,139.2 L1815.4,139.2 L1817.1,139.1 L1818.8,139.1 L1820.5,139.1 L1822.2,139.1 L1823.9,139.1 L1825.7,139.1 L1827.4,139.1 L1829.1,139.1 L1830.8,139.1 L1832.5,139.1 L1834.2,139.1 L1835.9,139.1 L1837.6,139.1 L1839.3,139.1 L1841.1,139.1 L1842.8,139.1 L1844.5,139.1 L1846.2,139.0 L1847.9,139.0 L1849.6,139.0 L1851.3,139.0 L1853.0,139.0 L1854.7,139.0 L1856.4,139.0 L1858.2,139.0 L1859.9,139.0 L1861.6,139.0 L1863.3,139.0 L1865.0,139.0 L1866.7,139.0 L1868.4,139.0 L1870.1,139.0 L1871.8,139.0 L1873.6,139.0 L1875.3,139.0 L1877.0,139.0 L1878.7,139.0 L1880.4,139.0 L1882.1,139.0 L1883.8,139.0 L1885.5,139.0 L1887.2,139.0 L1888.9,139.0 L1890.7,139.0 L1892.4,139.0 L1894.1,139.0 L1895.8,139.0 L1897.5,139.0 L1899.2,139.0 L1900.9,139.0 L1902.6,139.0 L1904.3,139.0 L1906.1,139.0 L1907.8,139.0 L1909.5,139.0 L1911.2,139.0 L1912.9,139.1 L1914.6,139.1 L1916.3,139.1 L1918.0,139.1 L1919.7,139.1 L1921.4,139.1 L1923.2,139.1 L1924.9,139.1 L1926.6,139.1 L1928.3,139.1 L1930.0,139.1 L1931.7,139.1 L1933.4,139.1 L1935.1,139.1 L1936.8,139.1 L1938.6,139.1 L1940.3,139.1 L1942.0,139.1 L1943.7,139.1 L1945.4,139.1 L1947.1,139.1 L1948.8,139.1 L1950.5,139.1 L1952.2,139.1 L1954.0,139.1 L1955.7,139.1 L1957.4,139.1 L1959.1,139.1 L1960.8,139.1 L1962.5,139.1 L1964.2,139.1 L1965.9,139.1 L1967.6,139.1 L1969.3,139.2 L1971.1,139.2 L1972.8,139.2 L1974.5,139.2 L1976.2,139.2 L1977.9,139.2"/>
<path class="c" stroke="#2a2a2a" stroke-dasharray="10.9 11.04" stroke-dashoffset="18.15" d="M1124.3,609.6 L1126.0,607.5 L1127.7,605.3 L1129.4,603.2 L1131.1,601.1 L1132.9,598.9 L1134.6,596.8 L1136.3,594.6 L1138.0,592.5 L1139.7,590.4 L1141.4,588.2 L1143.1,586.1 L1144.8,584.0 L1146.5,581.9 L1148.2,579.8 L1150.0,577.6 L1151.7,575.5 L1153.4,573.4 L1155.1,571.3 L1156.8,569.2 L1158.5,567.1 L1160.2,565.0 L1161.9,562.9 L1163.6,560.8 L1165.4,558.7 L1167.1,556.6 L1168.8,554.6 L1170.5,552.5 L1172.2,550.4 L1173.9,548.4 L1175.6,546.3 L1177.3,544.2 L1179.0,542.2 L1180.8,540.1 L1182.5,538.1 L1184.2,536.0 L1185.9,534.0 L1187.6,532.0 L1189.3,529.9 L1191.0,527.9 L1192.7,525.9 L1194.4,523.9 L1196.1,521.9 L1197.9,519.9 L1199.6,517.9 L1201.3,515.9 L1203.0,513.9 L1204.7,512.0 L1206.4,510.0 L1208.1,508.0 L1209.8,506.1 L1211.5,504.1 L1213.3,502.2 L1215.0,500.2 L1216.7,498.3 L1218.4,496.4 L1220.1,494.5 L1221.8,492.5 L1223.5,490.6 L1225.2,488.7 L1226.9,486.8 L1228.6,485.0 L1230.4,483.1 L1232.1,481.2 L1233.8,479.3 L1235.5,477.5 L1237.2,475.6 L1238.9,473.8 L1240.6,471.9 L1242.3,470.1 L1244.0,468.2 L1245.8,466.4 L1247.5,464.6 L1249.2,462.8 L1250.9,461.0 L1252.6,459.2 L1254.3,457.4 L1256.0,455.6 L1257.7,453.8 L1259.4,452.0 L1261.1,450.2 L1262.9,448.5 L1264.6,446.7 L1266.3,445.0 L1268.0,443.2 L1269.7,441.5 L1271.4,439.7 L1273.1,438.0 L1274.8,436.3 L1276.5,434.5 L1278.3,432.8 L1280.0,431.1 L1281.7,429.4 L1283.4,427.7 L1285.1,426.0 L1286.8,424.3 L1288.5,422.6 L1290.2,420.9 L1291.9,419.2 L1293.7,417.6 L1295.4,415.9 L1297.1,414.2 L1298.8,412.6 L1300.5,410.9 L1302.2,409.3 L1303.9,407.6 L1305.6,406.0 L1307.3,404.4 L1309.0,402.7 L1310.8,401.1 L1312.5,399.5 L1314.2,397.9 L1315.9,396.3 L1317.6,394.6 L1319.3,393.0 L1321.0,391.5 L1322.7,389.9 L1324.4,388.3 L1326.2,386.7 L1327.9,385.1 L1329.6,383.5 L1331.3,382.0 L1333.0,380.4 L1334.7,378.9 L1336.4,377.3 L1338.1,375.8 L1339.8,374.2 L1341.5,372.7 L1343.3,371.2 L1345.0,369.6 L1346.7,368.1 L1348.4,366.6 L1350.1,365.1 L1351.8,363.6 L1353.5,362.1 L1355.2,360.6 L1356.9,359.1 L1358.7,357.6 L1360.4,356.1 L1362.1,354.7 L1363.8,353.2 L1365.5,351.7 L1367.2,350.3 L1368.9,348.8 L1370.6,347.4 L1372.3,345.9 L1374.1,344.5 L1375.8,343.1 L1377.5,341.6 L1379.2,340.2 L1380.9,338.8 L1382.6,337.4 L1384.3,336.0 L1386.0,334.6 L1387.7,333.2 L1389.4,331.8 L1391.2,330.4 L1392.9,329.1 L1394.6,327.7 L1396.3,326.3 L1398.0,325.0 L1399.7,323.6 L1401.4,322.3 L1403.1,320.9 L1404.8,319.6 L1406.6,318.3 L1408.3,316.9 L1410.0,315.6 L1411.7,314.3 L1413.4,313.0 L1415.1,311.7 L1416.8,310.4 L1418.5,309.1 L1420.2,307.8 L1421.9,306.5 L1423.7,305.3 L1425.4,304.0 L1427.1,302.7 L1428.8,301.5 L1430.5,300.2 L1432.2,299.0 L1433.9,297.7 L1435.6,296.5 L1437.3,295.3 L1439.1,294.0 L1440.8,292.8 L1442.5,291.6 L1444.2,290.4 L1445.9,289.2 L1447.6,288.0 L1449.3,286.8 L1451.0,285.6 L1452.7,284.4 L1454.4,283.2 L1456.2,282.1 L1457.9,280.9 L1459.6,279.7 L1461.3,278.6 L1463.0,277.4 L1464.7,276.3 L1466.4,275.1 L1468.1,274.0 L1469.8,272.9 L1471.6,271.7 L1473.3,270.6 L1475.0,269.5 L1476.7,268.4 L1478.4,267.3 L1480.1,266.2 L1481.8,265.1 L1483.5,264.0 L1485.2,262.9 L1487.0,261.8 L1488.7,260.7 L1490.4,259.6 L1492.1,258.5 L1493.8,257.5 L1495.5,256.4 L1497.2,255.3 L1498.9,254.3 L1500.6,253.2 L1502.3,252.2 L1504.1,251.1 L1505.8,250.1 L1507.5,249.1 L1509.2,248.0 L1510.9,247.0 L1512.6,246.0 L1514.3,244.9 L1516.0,243.9 L1517.7,242.9 L1519.5,241.9 L1521.2,240.9 L1522.9,239.9 L1524.6,238.9 L1526.3,237.9 L1528.0,236.9 L1529.7,235.9 L1531.4,234.9 L1533.1,233.9 L1534.8,232.9 L1536.6,232.0 L1538.3,231.0 L1540.0,230.0 L1541.7,229.0 L1543.4,228.1 L1545.1,227.1 L1546.8,226.2 L1548.5,225.2 L1550.2,224.2 L1552.0,223.3 L1553.7,222.4 L1555.4,221.4 L1557.1,220.5 L1558.8,219.5 L1560.5,218.6 L1562.2,217.7 L1563.9,216.7 L1565.6,215.8 L1567.4,214.9 L1569.1,214.0 L1570.8,213.1 L1572.5,212.1 L1574.2,211.2 L1575.9,210.3 L1577.6,209.4 L1579.3,208.5 L1581.0,207.6 L1582.7,206.7 L1584.5,205.8 L1586.2,204.9 L1587.9,204.1 L1589.6,203.2 L1591.3,202.3 L1593.0,201.4 L1594.7,200.6 L1596.4,199.7 L1598.1,198.8 L1599.9,198.0 L1601.6,197.1 L1603.3,196.2 L1605.0,195.4 L1606.7,194.6 L1608.4,193.7 L1610.1,192.9 L1611.8,192.0 L1613.5,191.2 L1615.2,190.4 L1617.0,189.5 L1618.7,188.7 L1620.4,187.9 L1622.1,187.1 L1623.8,186.3 L1625.5,185.5 L1627.2,184.7 L1628.9,183.9 L1630.6,183.1 L1632.4,182.3 L1634.1,181.6 L1635.8,180.8 L1637.5,180.0 L1639.2,179.3 L1640.9,178.5 L1642.6,177.8 L1644.3,177.0 L1646.0,176.3 L1647.8,175.6 L1649.5,174.8 L1651.2,174.1 L1652.9,173.4 L1654.6,172.7 L1656.3,172.0 L1658.0,171.3 L1659.7,170.6 L1661.4,170.0 L1663.1,169.3 L1664.9,168.6 L1666.6,168.0 L1668.3,167.3 L1670.0,166.7 L1671.7,166.1 L1673.4,165.5 L1675.1,164.9 L1676.8,164.3 L1678.5,163.7 L1680.3,163.1 L1682.0,162.5 L1683.7,162.0 L1685.4,161.4 L1687.1,160.9 L1688.8,160.3 L1690.5,159.8 L1692.2,159.3 L1693.9,158.8 L1695.6,158.3 L1697.4,157.8 L1699.1,157.3 L1700.8,156.9 L1702.5,156.4 L1704.2,156.0 L1705.9,155.5 L1707.6,155.1 L1709.3,154.7 L1711.0,154.3 L1712.8,153.9 L1714.5,153.5 L1716.2,153.1 L1717.9,152.8 L1719.6,152.4 L1721.3,152.1 L1723.0,151.7 L1724.7,151.4 L1726.4,151.1 L1728.1,150.8 L1729.9,150.5 L1731.6,150.2 L1733.3,149.9 L1735.0,149.7 L1736.7,149.4 L1738.4,149.1 L1740.1,148.9 L1741.8,148.7 L1743.5,148.4 L1745.3,148.2 L1747.0,148.0 L1748.7,147.8 L1750.4,147.6 L1752.1,147.4 L1753.8,147.2 L1755.5,147.0 L1757.2,146.8 L1758.9,146.7 L1760.7,146.5 L1762.4,146.4 L1764.1,146.2 L1765.8,146.1 L1767.5,145.9 L1769.2,145.8 L1770.9,145.7 L1772.6,145.5 L1774.3,145.4 L1776.0,145.3 L1777.8,145.2 L1779.5,145.1 L1781.2,145.0 L1782.9,144.9 L1784.6,144.8 L1786.3,144.7 L1788.0,144.6 L1789.7,144.5 L1791.4,144.4 L1793.2,144.4 L1794.9,144.3 L1796.6,144.2 L1798.3,144.1 L1800.0,144.1 L1801.7,144.0 L1803.4,144.0 L1805.1,143.9 L1806.8,143.8 L1808.5,143.8 L1810.3,143.7 L1812.0,143.7 L1813.7,143.6 L1815.4,143.6 L1817.1,143.6 L1818.8,143.5 L1820.5,143.5 L1822.2,143.4 L1823.9,143.4 L1825.7,143.4 L1827.4,143.3 L1829.1,143.3 L1830.8,143.3 L1832.5,143.2 L1834.2,143.2 L1835.9,143.2 L1837.6,143.2 L1839.3,143.1 L1841.1,143.1 L1842.8,143.1 L1844.5,143.1 L1846.2,143.0 L1847.9,143.0 L1849.6,143.0 L1851.3,143.0 L1853.0,143.0 L1854.7,142.9 L1856.4,142.9 L1858.2,142.9 L1859.9,142.9 L1861.6,142.9 L1863.3,142.9 L1865.0,142.9 L1866.7,142.8 L1868.4,142.8 L1870.1,142.8 L1871.8,142.8 L1873.6,142.8 L1875.3,142.8 L1877.0,142.8 L1878.7,142.8 L1880.4,142.8 L1882.1,142.8 L1883.8,142.7 L1885.5,142.7 L1887.2,142.7 L1888.9,142.7 L1890.7,142.7 L1892.4,142.7 L1894.1,142.7 L1895.8,142.7 L1897.5,142.7 L1899.2,142.7 L1900.9,142.7 L1902.6,142.7 L1904.3,142.7 L1906.1,142.7 L1907.8,142.7 L1909.5,142.7 L1911.2,142.6 L1912.9,142.6 L1914.6,142.6 L1916.3,142.6 L1918.0,142.6 L1919.7,142.6 L1921.4,142.6 L1923.2,142.6 L1924.9,142.6 L1926.6,142.6 L1928.3,142.6 L1930.0,142.6 L1931.7,142.6 L1933.4,142.6 L1935.1,142.6 L1936.8,142.6 L1938.6,142.6 L1940.3,142.6 L1942.0,142.6 L1943.7,142.6 L1945.4,142.6 L1947.1,142.6 L1948.8,142.6 L1950.5,142.6 L1952.2,142.6 L1954.0,142.6 L1955.7,142.6 L1957.4,142.6 L1959.1,142.6 L1960.8,142.6 L1962.5,142.6 L1964.2,142.6 L1965.9,142.6 L1967.6,142.6 L1969.3,142.6 L1971.1,142.6 L1972.8,142.6 L1974.5,142.6 L1976.2,142.6 L1977.9,142.6"/>
<path class="c" stroke="#e5262b" stroke-dasharray="10.9 11.04" stroke-dashoffset="20.21" d="M1124.3,318.7 L1126.0,318.5 L1127.7,318.4 L1129.4,318.2 L1131.1,318.1 L1132.9,317.9 L1134.6,317.8 L1136.3,317.6 L1138.0,317.4 L1139.7,317.3 L1141.4,317.1 L1143.1,316.9 L1144.8,316.7 L1146.5,316.6 L1148.2,316.4 L1150.0,316.2 L1151.7,316.0 L1153.4,315.8 L1155.1,315.6 L1156.8,315.4 L1158.5,315.2 L1160.2,315.0 L1161.9,314.8 L1163.6,314.6 L1165.4,314.4 L1167.1,314.2 L1168.8,314.0 L1170.5,313.8 L1172.2,313.5 L1173.9,313.3 L1175.6,313.1 L1177.3,312.8 L1179.0,312.6 L1180.8,312.3 L1182.5,312.1 L1184.2,311.9 L1185.9,311.6 L1187.6,311.3 L1189.3,311.1 L1191.0,310.8 L1192.7,310.5 L1194.4,310.3 L1196.1,310.0 L1197.9,309.7 L1199.6,309.4 L1201.3,309.1 L1203.0,308.9 L1204.7,308.6 L1206.4,308.3 L1208.1,308.0 L1209.8,307.7 L1211.5,307.3 L1213.3,307.0 L1215.0,306.7 L1216.7,306.4 L1218.4,306.1 L1220.1,305.7 L1221.8,305.4 L1223.5,305.1 L1225.2,304.7 L1226.9,304.4 L1228.6,304.0 L1230.4,303.7 L1232.1,303.3 L1233.8,303.0 L1235.5,302.6 L1237.2,302.3 L1238.9,301.9 L1240.6,301.5 L1242.3,301.1 L1244.0,300.7 L1245.8,300.4 L1247.5,300.0 L1249.2,299.6 L1250.9,299.2 L1252.6,298.8 L1254.3,298.4 L1256.0,298.0 L1257.7,297.5 L1259.4,297.1 L1261.1,296.7 L1262.9,296.3 L1264.6,295.9 L1266.3,295.4 L1268.0,295.0 L1269.7,294.5 L1271.4,294.1 L1273.1,293.6 L1274.8,293.2 L1276.5,292.7 L1278.3,292.3 L1280.0,291.8 L1281.7,291.3 L1283.4,290.9 L1285.1,290.4 L1286.8,289.9 L1288.5,289.4 L1290.2,288.9 L1291.9,288.4 L1293.7,287.9 L1295.4,287.4 L1297.1,286.9 L1298.8,286.4 L1300.5,285.9 L1302.2,285.4 L1303.9,284.9 L1305.6,284.4 L1307.3,283.8 L1309.0,283.3 L1310.8,282.8 L1312.5,282.2 L1314.2,281.7 L1315.9,281.1 L1317.6,280.6 L1319.3,280.0 L1321.0,279.5 L1322.7,278.9 L1324.4,278.3 L1326.2,277.8 L1327.9,277.2 L1329.6,276.6 L1331.3,276.0 L1333.0,275.4 L1334.7,274.9 L1336.4,274.3 L1338.1,273.7 L1339.8,273.1 L1341.5,272.5 L1343.3,271.9 L1345.0,271.3 L1346.7,270.6 L1348.4,270.0 L1350.1,269.4 L1351.8,268.8 L1353.5,268.2 L1355.2,267.5 L1356.9,266.9 L1358.7,266.3 L1360.4,265.7 L1362.1,265.0 L1363.8,264.4 L1365.5,263.7 L1367.2,263.1 L1368.9,262.4 L1370.6,261.8 L1372.3,261.1 L1374.1,260.5 L1375.8,259.8 L1377.5,259.2 L1379.2,258.5 L1380.9,257.9 L1382.6,257.2 L1384.3,256.5 L1386.0,255.9 L1387.7,255.2 L1389.4,254.5 L1391.2,253.8 L1392.9,253.2 L1394.6,252.5 L1396.3,251.8 L1398.0,251.1 L1399.7,250.4 L1401.4,249.8 L1403.1,249.1 L1404.8,248.4 L1406.6,247.7 L1408.3,247.0 L1410.0,246.3 L1411.7,245.6 L1413.4,244.9 L1415.1,244.2 L1416.8,243.6 L1418.5,242.9 L1420.2,242.2 L1421.9,241.5 L1423.7,240.8 L1425.4,240.1 L1427.1,239.4 L1428.8,238.7 L1430.5,238.0 L1432.2,237.3 L1433.9,236.6 L1435.6,235.9 L1437.3,235.2 L1439.1,234.5 L1440.8,233.8 L1442.5,233.1 L1444.2,232.4 L1445.9,231.7 L1447.6,231.0 L1449.3,230.3 L1451.0,229.6 L1452.7,228.8 L1454.4,228.1 L1456.2,227.4 L1457.9,226.7 L1459.6,226.0 L1461.3,225.3 L1463.0,224.6 L1464.7,223.9 L1466.4,223.2 L1468.1,222.5 L1469.8,221.8 L1471.6,221.1 L1473.3,220.4 L1475.0,219.7 L1476.7,219.0 L1478.4,218.3 L1480.1,217.6 L1481.8,216.9 L1483.5,216.2 L1485.2,215.5 L1487.0,214.8 L1488.7,214.1 L1490.4,213.4 L1492.1,212.7 L1493.8,212.0 L1495.5,211.3 L1497.2,210.6 L1498.9,209.9 L1500.6,209.2 L1502.3,208.5 L1504.1,207.8 L1505.8,207.1 L1507.5,206.4 L1509.2,205.7 L1510.9,205.0 L1512.6,204.3 L1514.3,203.6 L1516.0,202.9 L1517.7,202.2 L1519.5,201.5 L1521.2,200.8 L1522.9,200.2 L1524.6,199.5 L1526.3,198.8 L1528.0,198.1 L1529.7,197.4 L1531.4,196.7 L1533.1,196.0 L1534.8,195.3 L1536.6,194.6 L1538.3,193.9 L1540.0,193.2 L1541.7,192.6 L1543.4,191.9 L1545.1,191.2 L1546.8,190.5 L1548.5,189.8 L1550.2,189.1 L1552.0,188.4 L1553.7,187.8 L1555.4,187.1 L1557.1,186.4 L1558.8,185.7 L1560.5,185.0 L1562.2,184.3 L1563.9,183.7 L1565.6,183.0 L1567.4,182.3 L1569.1,181.6 L1570.8,180.9 L1572.5,180.3 L1574.2,179.6 L1575.9,178.9 L1577.6,178.2 L1579.3,177.6 L1581.0,176.9 L1582.7,176.2 L1584.5,175.5 L1586.2,174.9 L1587.9,174.2 L1589.6,173.5 L1591.3,172.9 L1593.0,172.2 L1594.7,171.5 L1596.4,170.9 L1598.1,170.2 L1599.9,169.6 L1601.6,168.9 L1603.3,168.2 L1605.0,167.6 L1606.7,166.9 L1608.4,166.3 L1610.1,165.6 L1611.8,165.0 L1613.5,164.3 L1615.2,163.7 L1617.0,163.0 L1618.7,162.4 L1620.4,161.8 L1622.1,161.1 L1623.8,160.5 L1625.5,159.9 L1627.2,159.2 L1628.9,158.6 L1630.6,158.0 L1632.4,157.4 L1634.1,156.8 L1635.8,156.1 L1637.5,155.5 L1639.2,154.9 L1640.9,154.3 L1642.6,153.7 L1644.3,153.1 L1646.0,152.5 L1647.8,152.0 L1649.5,151.4 L1651.2,150.8 L1652.9,150.2 L1654.6,149.7 L1656.3,149.1 L1658.0,148.5 L1659.7,148.0 L1661.4,147.4 L1663.1,146.9 L1664.9,146.4 L1666.6,145.8 L1668.3,145.3 L1670.0,144.8 L1671.7,144.3 L1673.4,143.8 L1675.1,143.3 L1676.8,142.8 L1678.5,142.3 L1680.3,141.8 L1682.0,141.4 L1683.7,140.9 L1685.4,140.5 L1687.1,140.0 L1688.8,139.6 L1690.5,139.1 L1692.2,138.7 L1693.9,138.3 L1695.6,137.9 L1697.4,137.5 L1699.1,137.1 L1700.8,136.7 L1702.5,136.3 L1704.2,136.0 L1705.9,135.6 L1707.6,135.3 L1709.3,134.9 L1711.0,134.6 L1712.8,134.2 L1714.5,133.9 L1716.2,133.6 L1717.9,133.3 L1719.6,133.0 L1721.3,132.7 L1723.0,132.5 L1724.7,132.2 L1726.4,131.9 L1728.1,131.7 L1729.9,131.4 L1731.6,131.2 L1733.3,130.9 L1735.0,130.7 L1736.7,130.5 L1738.4,130.3 L1740.1,130.1 L1741.8,129.9 L1743.5,129.7 L1745.3,129.5 L1747.0,129.3 L1748.7,129.1 L1750.4,129.0 L1752.1,128.8 L1753.8,128.6 L1755.5,128.5 L1757.2,128.3 L1758.9,128.2 L1760.7,128.1 L1762.4,127.9 L1764.1,127.8 L1765.8,127.7 L1767.5,127.6 L1769.2,127.4 L1770.9,127.3 L1772.6,127.2 L1774.3,127.1 L1776.0,127.0 L1777.8,126.9 L1779.5,126.8 L1781.2,126.8 L1782.9,126.7 L1784.6,126.6 L1786.3,126.5 L1788.0,126.4 L1789.7,126.4 L1791.4,126.3 L1793.2,126.2 L1794.9,126.2 L1796.6,126.1 L1798.3,126.1 L1800.0,126.0 L1801.7,126.0 L1803.4,125.9 L1805.1,125.9 L1806.8,125.8 L1808.5,125.8 L1810.3,125.7 L1812.0,125.7 L1813.7,125.6 L1815.4,125.6 L1817.1,125.6 L1818.8,125.5 L1820.5,125.5 L1822.2,125.5 L1823.9,125.4 L1825.7,125.4 L1827.4,125.4 L1829.1,125.3 L1830.8,125.3 L1832.5,125.3 L1834.2,125.3 L1835.9,125.2 L1837.6,125.2 L1839.3,125.2 L1841.1,125.2 L1842.8,125.2 L1844.5,125.1 L1846.2,125.1 L1847.9,125.1 L1849.6,125.1 L1851.3,125.1 L1853.0,125.1 L1854.7,125.0 L1856.4,125.0 L1858.2,125.0 L1859.9,125.0 L1861.6,125.0 L1863.3,125.0 L1865.0,125.0 L1866.7,125.0 L1868.4,125.0 L1870.1,124.9 L1871.8,124.9 L1873.6,124.9 L1875.3,124.9 L1877.0,124.9 L1878.7,124.9 L1880.4,124.9 L1882.1,124.9 L1883.8,124.9 L1885.5,124.9 L1887.2,124.9 L1888.9,124.9 L1890.7,124.9 L1892.4,124.8 L1894.1,124.8 L1895.8,124.8 L1897.5,124.8 L1899.2,124.8 L1900.9,124.8 L1902.6,124.8 L1904.3,124.8 L1906.1,124.8 L1907.8,124.8 L1909.5,124.8 L1911.2,124.8 L1912.9,124.8 L1914.6,124.8 L1916.3,124.8 L1918.0,124.8 L1919.7,124.8 L1921.4,124.8 L1923.2,124.8 L1924.9,124.8 L1926.6,124.8 L1928.3,124.8 L1930.0,124.8 L1931.7,124.8 L1933.4,124.8 L1935.1,124.8 L1936.8,124.8 L1938.6,124.7 L1940.3,124.7 L1942.0,124.7 L1943.7,124.7 L1945.4,124.7 L1947.1,124.7 L1948.8,124.7 L1950.5,124.7 L1952.2,124.7 L1954.0,124.7 L1955.7,124.7 L1957.4,124.7 L1959.1,124.7 L1960.8,124.7 L1962.5,124.7 L1964.2,124.7 L1965.9,124.7 L1967.6,124.7 L1969.3,124.7 L1971.1,124.7 L1972.8,124.7 L1974.5,124.7 L1976.2,124.7 L1977.9,124.7"/>
<path class="c" stroke="#000000" d="M1124.3,430.0 L1126.0,428.4 L1127.7,426.8 L1129.4,425.2 L1131.1,423.6 L1132.9,422.0 L1134.6,420.5 L1136.3,418.9 L1138.0,417.3 L1139.7,415.7 L1141.4,414.2 L1143.1,412.6 L1144.8,411.0 L1146.5,409.5 L1148.2,407.9 L1150.0,406.4 L1151.7,404.8 L1153.4,403.3 L1155.1,401.7 L1156.8,400.2 L1158.5,398.6 L1160.2,397.1 L1161.9,395.6 L1163.6,394.1 L1165.4,392.5 L1167.1,391.0 L1168.8,389.5 L1170.5,388.0 L1172.2,386.5 L1173.9,385.0 L1175.6,383.5 L1177.3,382.0 L1179.0,380.5 L1180.8,379.0 L1182.5,377.5 L1184.2,376.0 L1185.9,374.6 L1187.6,373.1 L1189.3,371.6 L1191.0,370.1 L1192.7,368.7 L1194.4,367.2 L1196.1,365.8 L1197.9,364.3 L1199.6,362.9 L1201.3,361.4 L1203.0,360.0 L1204.7,358.6 L1206.4,357.1 L1208.1,355.7 L1209.8,354.3 L1211.5,352.8 L1213.3,351.4 L1215.0,350.0 L1216.7,348.6 L1218.4,347.2 L1220.1,345.8 L1221.8,344.4 L1223.5,343.0 L1225.2,341.6 L1226.9,340.3 L1228.6,338.9 L1230.4,337.5 L1232.1,336.1 L1233.8,334.8 L1235.5,333.4 L1237.2,332.0 L1238.9,330.7 L1240.6,329.3 L1242.3,328.0 L1244.0,326.7 L1245.8,325.3 L1247.5,324.0 L1249.2,322.7 L1250.9,321.3 L1252.6,320.0 L1254.3,318.7 L1256.0,317.4 L1257.7,316.1 L1259.4,314.8 L1261.1,313.5 L1262.9,312.2 L1264.6,310.9 L1266.3,309.6 L1268.0,308.3 L1269.7,307.1 L1271.4,305.8 L1273.1,304.5 L1274.8,303.3 L1276.5,302.0 L1278.3,300.8 L1280.0,299.5 L1281.7,298.3 L1283.4,297.0 L1285.1,295.8 L1286.8,294.6 L1288.5,293.4 L1290.2,292.1 L1291.9,290.9 L1293.7,289.7 L1295.4,288.5 L1297.1,287.3 L1298.8,286.1 L1300.5,284.9 L1302.2,283.7 L1303.9,282.6 L1305.6,281.4 L1307.3,280.2 L1309.0,279.0 L1310.8,277.9 L1312.5,276.7 L1314.2,275.6 L1315.9,274.4 L1317.6,273.3 L1319.3,272.2 L1321.0,271.0 L1322.7,269.9 L1324.4,268.8 L1326.2,267.7 L1327.9,266.5 L1329.6,265.4 L1331.3,264.3 L1333.0,263.2 L1334.7,262.1 L1336.4,261.1 L1338.1,260.0 L1339.8,258.9 L1341.5,257.8 L1343.3,256.8 L1345.0,255.7 L1346.7,254.6 L1348.4,253.6 L1350.1,252.6 L1351.8,251.5 L1353.5,250.5 L1355.2,249.4 L1356.9,248.4 L1358.7,247.4 L1360.4,246.4 L1362.1,245.4 L1363.8,244.4 L1365.5,243.4 L1367.2,242.4 L1368.9,241.4 L1370.6,240.4 L1372.3,239.4 L1374.1,238.5 L1375.8,237.5 L1377.5,236.5 L1379.2,235.6 L1380.9,234.6 L1382.6,233.7 L1384.3,232.8 L1386.0,231.8 L1387.7,230.9 L1389.4,230.0 L1391.2,229.1 L1392.9,228.1 L1394.6,227.2 L1396.3,226.3 L1398.0,225.4 L1399.7,224.6 L1401.4,223.7 L1403.1,222.8 L1404.8,221.9 L1406.6,221.1 L1408.3,220.2 L1410.0,219.3 L1411.7,218.5 L1413.4,217.6 L1415.1,216.8 L1416.8,216.0 L1418.5,215.1 L1420.2,214.3 L1421.9,213.5 L1423.7,212.7 L1425.4,211.9 L1427.1,211.1 L1428.8,210.3 L1430.5,209.5 L1432.2,208.7 L1433.9,207.9 L1435.6,207.1 L1437.3,206.4 L1439.1,205.6 L1440.8,204.8 L1442.5,204.1 L1444.2,203.3 L1445.9,202.6 L1447.6,201.8 L1449.3,201.1 L1451.0,200.4 L1452.7,199.6 L1454.4,198.9 L1456.2,198.2 L1457.9,197.5 L1459.6,196.8 L1461.3,196.1 L1463.0,195.4 L1464.7,194.7 L1466.4,194.0 L1468.1,193.3 L1469.8,192.7 L1471.6,192.0 L1473.3,191.3 L1475.0,190.6 L1476.7,190.0 L1478.4,189.3 L1480.1,188.7 L1481.8,188.0 L1483.5,187.4 L1485.2,186.7 L1487.0,186.1 L1488.7,185.4 L1490.4,184.8 L1492.1,184.2 L1493.8,183.5 L1495.5,182.9 L1497.2,182.3 L1498.9,181.7 L1500.6,181.0 L1502.3,180.4 L1504.1,179.8 L1505.8,179.2 L1507.5,178.6 L1509.2,178.0 L1510.9,177.4 L1512.6,176.7 L1514.3,176.1 L1516.0,175.5 L1517.7,174.9 L1519.5,174.3 L1521.2,173.7 L1522.9,173.1 L1524.6,172.5 L1526.3,171.9 L1528.0,171.3 L1529.7,170.7 L1531.4,170.1 L1533.1,169.5 L1534.8,168.9 L1536.6,168.3 L1538.3,167.7 L1540.0,167.1 L1541.7,166.5 L1543.4,165.9 L1545.1,165.3 L1546.8,164.7 L1548.5,164.1 L1550.2,163.5 L1552.0,162.9 L1553.7,162.3 L1555.4,161.7 L1557.1,161.1 L1558.8,160.5 L1560.5,159.9 L1562.2,159.4 L1563.9,158.8 L1565.6,158.2 L1567.4,157.6 L1569.1,157.0 L1570.8,156.5 L1572.5,155.9 L1574.2,155.3 L1575.9,154.8 L1577.6,154.2 L1579.3,153.7 L1581.0,153.1 L1582.7,152.6 L1584.5,152.0 L1586.2,151.5 L1587.9,151.0 L1589.6,150.4 L1591.3,149.9 L1593.0,149.4 L1594.7,148.9 L1596.4,148.3 L1598.1,147.8 L1599.9,147.3 L1601.6,146.8 L1603.3,146.3 L1605.0,145.8 L1606.7,145.3 L1608.4,144.9 L1610.1,144.4 L1611.8,143.9 L1613.5,143.4 L1615.2,143.0 L1617.0,142.5 L1618.7,142.1 L1620.4,141.6 L1622.1,141.2 L1623.8,140.7 L1625.5,140.3 L1627.2,139.9 L1628.9,139.4 L1630.6,139.0 L1632.4,138.6 L1634.1,138.2 L1635.8,137.8 L1637.5,137.4 L1639.2,137.0 L1640.9,136.6 L1642.6,136.2 L1644.3,135.9 L1646.0,135.5 L1647.8,135.1 L1649.5,134.7 L1651.2,134.4 L1652.9,134.0 L1654.6,133.7 L1656.3,133.3 L1658.0,133.0 L1659.7,132.7 L1661.4,132.3 L1663.1,132.0 L1664.9,131.7 L1666.6,131.4 L1668.3,131.1 L1670.0,130.8 L1671.7,130.5 L1673.4,130.2 L1675.1,129.9 L1676.8,129.6 L1678.5,129.3 L1680.3,129.0 L1682.0,128.8 L1683.7,128.5 L1685.4,128.2 L1687.1,128.0 L1688.8,127.7 L1690.5,127.5 L1692.2,127.2 L1693.9,127.0 L1695.6,126.7 L1697.4,126.5 L1699.1,126.3 L1700.8,126.1 L1702.5,125.8 L1704.2,125.6 L1705.9,125.4 L1707.6,125.2 L1709.3,125.0 L1711.0,124.8 L1712.8,124.6 L1714.5,124.4 L1716.2,124.2 L1717.9,124.1 L1719.6,123.9 L1721.3,123.7 L1723.0,123.5 L1724.7,123.4 L1726.4,123.2 L1728.1,123.0 L1729.9,122.9 L1731.6,122.7 L1733.3,122.6 L1735.0,122.4 L1736.7,122.3 L1738.4,122.2 L1740.1,122.0 L1741.8,121.9 L1743.5,121.8 L1745.3,121.7 L1747.0,121.5 L1748.7,121.4 L1750.4,121.3 L1752.1,121.2 L1753.8,121.1 L1755.5,121.0 L1757.2,120.9 L1758.9,120.8 L1760.7,120.7 L1762.4,120.6 L1764.1,120.5 L1765.8,120.4 L1767.5,120.4 L1769.2,120.3 L1770.9,120.2 L1772.6,120.1 L1774.3,120.1 L1776.0,120.0 L1777.8,119.9 L1779.5,119.9 L1781.2,119.8 L1782.9,119.8 L1784.6,119.7 L1786.3,119.7 L1788.0,119.6 L1789.7,119.6 L1791.4,119.5 L1793.2,119.5 L1794.9,119.4 L1796.6,119.4 L1798.3,119.4 L1800.0,119.3 L1801.7,119.3 L1803.4,119.3 L1805.1,119.2 L1806.8,119.2 L1808.5,119.2 L1810.3,119.2 L1812.0,119.1 L1813.7,119.1 L1815.4,119.1 L1817.1,119.1 L1818.8,119.1 L1820.5,119.1 L1822.2,119.1 L1823.9,119.0 L1825.7,119.0 L1827.4,119.0 L1829.1,119.0 L1830.8,119.0 L1832.5,119.0 L1834.2,119.0 L1835.9,119.0 L1837.6,119.0 L1839.3,119.0 L1841.1,119.0 L1842.8,119.0 L1844.5,119.0 L1846.2,119.0 L1847.9,119.0 L1849.6,119.0 L1851.3,119.1 L1853.0,119.1 L1854.7,119.1 L1856.4,119.1 L1858.2,119.1 L1859.9,119.1 L1861.6,119.1 L1863.3,119.1 L1865.0,119.1 L1866.7,119.2 L1868.4,119.2 L1870.1,119.2 L1871.8,119.2 L1873.6,119.2 L1875.3,119.2 L1877.0,119.2 L1878.7,119.2 L1880.4,119.3 L1882.1,119.3 L1883.8,119.3 L1885.5,119.3 L1887.2,119.3 L1888.9,119.3 L1890.7,119.3 L1892.4,119.4 L1894.1,119.4 L1895.8,119.4 L1897.5,119.4 L1899.2,119.4 L1900.9,119.4 L1902.6,119.4 L1904.3,119.4 L1906.1,119.5 L1907.8,119.5 L1909.5,119.5 L1911.2,119.5 L1912.9,119.5 L1914.6,119.5 L1916.3,119.5 L1918.0,119.5 L1919.7,119.5 L1921.4,119.5 L1923.2,119.5 L1924.9,119.5 L1926.6,119.5 L1928.3,119.5 L1930.0,119.5 L1931.7,119.5 L1933.4,119.5 L1935.1,119.5 L1936.8,119.5 L1938.6,119.5 L1940.3,119.5 L1942.0,119.5 L1943.7,119.5 L1945.4,119.5 L1947.1,119.4 L1948.8,119.4 L1950.5,119.4 L1952.2,119.4 L1954.0,119.4 L1955.7,119.4 L1957.4,119.3 L1959.1,119.3 L1960.8,119.3 L1962.5,119.3 L1964.2,119.2 L1965.9,119.2 L1967.6,119.2 L1969.3,119.2 L1971.1,119.1 L1972.8,119.1 L1974.5,119.1 L1976.2,119.0 L1977.9,119.0"/>
</g>
<path class="t" d="M1209.96,652.7v-3.5 M1260.07,652.7v-3.5 M1295.63,652.7v-3.5 M1323.20,652.7v-3.5 M1345.74,652.7v-3.5 M1364.79,652.7v-3.5 M1381.29,652.7v-3.5 M1395.85,652.7v-3.5 M1408.87,652.7v-7.5 M1494.53,652.7v-3.5 M1544.64,652.7v-3.5 M1580.19,652.7v-3.5 M1607.77,652.7v-3.5 M1630.30,652.7v-3.5 M1649.35,652.7v-3.5 M1665.86,652.7v-3.5 M1680.41,652.7v-3.5 M1693.43,652.7v-7.5 M1779.10,652.7v-3.5 M1829.21,652.7v-3.5 M1864.76,652.7v-3.5 M1892.34,652.7v-3.5 M1914.87,652.7v-3.5 M1933.92,652.7v-3.5 M1950.42,652.7v-3.5 M1964.98,652.7v-3.5 M1182.39,84.2v3.5 M1232.50,84.2v3.5 M1268.05,84.2v3.5 M1295.63,84.2v3.5 M1318.16,84.2v3.5 M1337.21,84.2v3.5 M1353.71,84.2v3.5 M1368.27,84.2v3.5 M1381.29,84.2v7.5 M1466.95,84.2v3.5 M1517.06,84.2v3.5 M1552.62,84.2v3.5 M1580.19,84.2v3.5 M1602.73,84.2v3.5 M1621.78,84.2v3.5 M1638.28,84.2v3.5 M1652.83,84.2v3.5 M1665.86,84.2v7.5 M1751.52,84.2v3.5 M1801.63,84.2v3.5 M1837.18,84.2v3.5 M1864.76,84.2v3.5 M1887.29,84.2v3.5 M1906.34,84.2v3.5 M1922.85,84.2v3.5 M1937.40,84.2v3.5 M1950.42,84.2v7.5 M1124.3,578.33h3.5 M1977.9,578.33h-3.5 M1124.3,534.82h3.5 M1977.9,534.82h-3.5 M1124.3,503.95h3.5 M1977.9,503.95h-3.5 M1124.3,480.01h3.5 M1977.9,480.01h-3.5 M1124.3,460.45h3.5 M1977.9,460.45h-3.5 M1124.3,443.91h3.5 M1977.9,443.91h-3.5 M1124.3,429.58h3.5 M1977.9,429.58h-3.5 M1124.3,416.94h3.5 M1977.9,416.94h-3.5 M1124.3,405.64h7.5 M1977.9,405.64h-7.5 M1124.3,331.26h3.5 M1977.9,331.26h-3.5 M1124.3,287.76h3.5 M1977.9,287.76h-3.5 M1124.3,256.89h3.5 M1977.9,256.89h-3.5 M1124.3,232.95h3.5 M1977.9,232.95h-3.5 M1124.3,213.38h3.5 M1977.9,213.38h-3.5 M1124.3,196.84h3.5 M1977.9,196.84h-3.5 M1124.3,182.52h3.5 M1977.9,182.52h-3.5 M1124.3,169.88h3.5 M1977.9,169.88h-3.5 M1124.3,158.57h7.5 M1977.9,158.57h-7.5 M1124.3,84.20h3.5 M1977.9,84.20h-3.5"/>
<rect class="ax" x="1124.3" y="84.2" width="853.6000000000001" height="568.5"/>
<text class="tk" x="1116.6" y="668.1" text-anchor="end">10<tspan class="sup" dx="-1.3" dy="-12.5">6</tspan></text>
<text class="tk" x="1116.6" y="421.0" text-anchor="end">10<tspan class="sup" dx="-1.3" dy="-12.5">7</tspan></text>
<text class="tk" x="1116.6" y="174.0" text-anchor="end">10<tspan class="sup" dx="-1.3" dy="-12.5">8</tspan></text>
<text class="tk" x="1101.0" y="689.8" text-anchor="start">10<tspan class="sup" dx="-1.3" dy="-12.5">0</tspan></text>
<text class="tk" x="1385.5" y="689.8" text-anchor="start">10<tspan class="sup" dx="-1.3" dy="-12.5">1</tspan></text>
<text class="tk" x="1670.1" y="689.8" text-anchor="start">10<tspan class="sup" dx="-1.3" dy="-12.5">2</tspan></text>
<text class="tk" x="1954.7" y="689.8" text-anchor="start">10<tspan class="sup" dx="-1.3" dy="-12.5">3</tspan></text>
<text class="tk" x="1348.4" y="76.5" text-anchor="start">10<tspan class="mn" dx="-0.5" dy="-10.5">−</tspan><tspan class="sup" dx="-1.5" dy="-2.0">1</tspan></text>
<text class="tk" x="1642.5" y="76.5" text-anchor="start">10<tspan class="sup" dx="-1.3" dy="-12.5">0</tspan></text>
<text class="tk" x="1927.1" y="76.5" text-anchor="start">10<tspan class="sup" dx="-1.3" dy="-12.5">1</tspan></text>
<text class="lab" x="1551.4" y="37.3" text-anchor="middle">Radius [”]</text>
<text class="lab" x="1551.4" y="724.8" text-anchor="middle">Radius [pc]</text>
<text class="lab" transform="translate(1053.8,456.3) rotate(-90)">M(<tspan class="lt">&lt;</tspan><tspan dx="6">r) [M</tspan><tspan class="sun" dx="-1.2" dy="8.0">⊙</tspan><tspan dx="-1.3" dy="-8.0">]</tspan></text>
<text class="pl" x="1177.0" y="155.3">b</text>
</svg></body></html>
